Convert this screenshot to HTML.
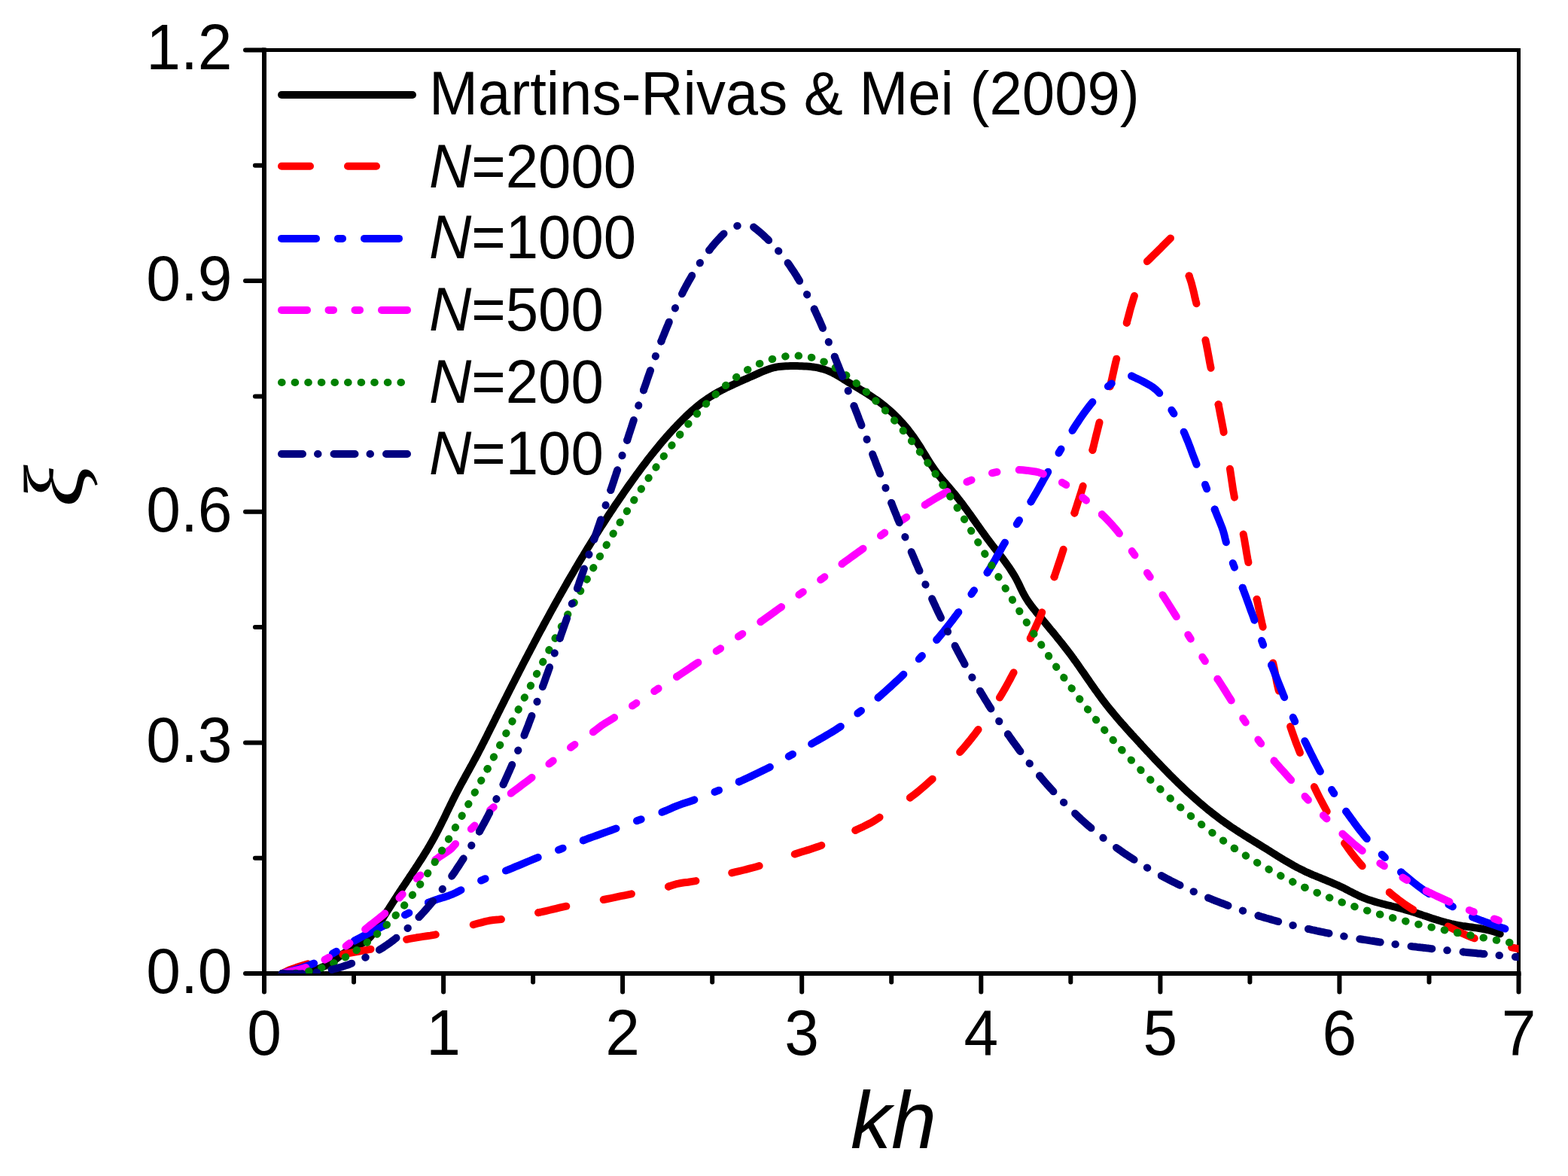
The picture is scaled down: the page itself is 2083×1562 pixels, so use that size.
<!DOCTYPE html>
<html><head><meta charset="utf-8"><title>xi vs kh</title><style>html,body{margin:0;padding:0;background:#fff;}svg{display:block;}</style></head><body>
<svg width="2083" height="1562" viewBox="0 0 2083 1562">
<rect width="2083" height="1562" fill="#fff"/>
<defs><clipPath id="pc"><rect x="351.0" y="66.5" width="1666.5" height="1226.5"/></clipPath></defs>
<g stroke="#000" fill="none" stroke-linecap="square">
<line x1="351.0" y1="66.5" x2="2017.5" y2="66.5" stroke-width="5"/>
<line x1="2017.5" y1="66.5" x2="2017.5" y2="1293.0" stroke-width="5"/>
<line x1="351.0" y1="1293.0" x2="2017.5" y2="1293.0" stroke-width="6"/>
<line x1="351.0" y1="66.5" x2="351.0" y2="1293.0" stroke-width="6"/>
</g>
<g stroke="#000" stroke-width="6" stroke-linecap="round"><line x1="351.0" y1="1293.0" x2="351.0" y2="1317.6"/><line x1="589.1" y1="1293.0" x2="589.1" y2="1317.6"/><line x1="827.1" y1="1293.0" x2="827.1" y2="1317.6"/><line x1="1065.2" y1="1293.0" x2="1065.2" y2="1317.6"/><line x1="1303.3" y1="1293.0" x2="1303.3" y2="1317.6"/><line x1="1541.4" y1="1293.0" x2="1541.4" y2="1317.6"/><line x1="1779.4" y1="1293.0" x2="1779.4" y2="1317.6"/><line x1="2017.5" y1="1293.0" x2="2017.5" y2="1317.6"/><line x1="470.0" y1="1293.0" x2="470.0" y2="1304.5"/><line x1="708.1" y1="1293.0" x2="708.1" y2="1304.5"/><line x1="946.2" y1="1293.0" x2="946.2" y2="1304.5"/><line x1="1184.2" y1="1293.0" x2="1184.2" y2="1304.5"/><line x1="1422.3" y1="1293.0" x2="1422.3" y2="1304.5"/><line x1="1660.4" y1="1293.0" x2="1660.4" y2="1304.5"/><line x1="1898.5" y1="1293.0" x2="1898.5" y2="1304.5"/><line x1="326.0" y1="1293.0" x2="351.0" y2="1293.0"/><line x1="326.0" y1="986.4" x2="351.0" y2="986.4"/><line x1="326.0" y1="679.8" x2="351.0" y2="679.8"/><line x1="326.0" y1="373.1" x2="351.0" y2="373.1"/><line x1="326.0" y1="66.5" x2="351.0" y2="66.5"/><line x1="338.9" y1="1139.7" x2="351.0" y2="1139.7"/><line x1="338.9" y1="833.1" x2="351.0" y2="833.1"/><line x1="338.9" y1="526.4" x2="351.0" y2="526.4"/><line x1="338.9" y1="219.8" x2="351.0" y2="219.8"/></g>
<g font-family='"Liberation Sans", Arial, sans-serif' font-size="86" fill="#000"><text transform="translate(351.0,1401) scale(0.955,1)" text-anchor="middle">0</text><text transform="translate(589.1,1401) scale(0.955,1)" text-anchor="middle">1</text><text transform="translate(827.1,1401) scale(0.955,1)" text-anchor="middle">2</text><text transform="translate(1065.2,1401) scale(0.955,1)" text-anchor="middle">3</text><text transform="translate(1303.3,1401) scale(0.955,1)" text-anchor="middle">4</text><text transform="translate(1541.4,1401) scale(0.955,1)" text-anchor="middle">5</text><text transform="translate(1779.4,1401) scale(0.955,1)" text-anchor="middle">6</text><text transform="translate(2017.5,1401) scale(0.955,1)" text-anchor="middle">7</text><text transform="translate(308.5,1318.7) scale(0.955,1)" text-anchor="end">0.0</text><text transform="translate(308.5,1012.1) scale(0.955,1)" text-anchor="end">0.3</text><text transform="translate(308.5,705.5) scale(0.955,1)" text-anchor="end">0.6</text><text transform="translate(308.5,398.8) scale(0.955,1)" text-anchor="end">0.9</text><text transform="translate(308.5,92.2) scale(0.955,1)" text-anchor="end">1.2</text></g>
<text x="1130" y="1525" font-family='"Liberation Sans", Arial, sans-serif' font-style="italic" font-size="108" fill="#000">kh</text>
<text transform="translate(110,645.5) rotate(-90) scale(1.17,1)" text-anchor="middle" font-family='"Liberation Serif", serif' font-style="italic" font-size="112" fill="#000">ξ</text>
<g clip-path="url(#pc)" fill="none" stroke-width="10" stroke-linecap="round" stroke-linejoin="round">
<path d="M374.8,1293.0 L377.8,1293.1 L380.8,1293.2 L383.8,1293.2 L386.8,1293.2 L389.8,1293.1 L392.8,1292.9 L395.9,1292.6 L398.9,1292.3 L401.9,1291.9 L404.9,1291.4 L407.9,1290.8 L410.8,1290.2 L413.8,1289.5 L416.7,1288.7 L419.6,1287.8 L422.4,1286.9 L425.2,1285.9 L428.0,1284.7 L430.7,1283.5 L433.3,1282.2 L436.0,1280.8 L438.5,1279.4 L441.0,1277.8 L443.4,1276.1 L445.8,1274.4 L448.1,1272.6 L450.4,1270.8 L452.8,1269.0 L455.1,1267.2 L457.6,1265.6 L460.0,1264.0 L462.6,1262.5 L465.2,1261.1 L467.8,1259.7 L470.5,1258.4 L473.2,1257.1 L475.9,1255.8 L478.5,1254.5 L481.1,1253.0 L483.6,1251.5 L486.0,1249.9 L488.3,1248.1 L490.4,1246.1 L492.4,1244.0 L494.2,1241.7 L496.0,1239.3 L497.7,1236.8 L499.3,1234.2 L501.0,1231.7 L502.6,1229.1 L504.2,1226.5 L505.8,1224.0 L507.4,1221.4 L509.0,1218.8 L510.6,1216.3 L512.2,1213.8 L513.8,1211.2 L515.4,1208.7 L517.1,1206.2 L518.7,1203.6 L520.3,1201.1 L521.9,1198.6 L523.5,1196.1 L525.2,1193.6 L526.8,1191.0 L528.4,1188.5 L530.1,1186.0 L531.7,1183.5 L533.4,1181.0 L535.0,1178.5 L536.7,1176.0 L538.4,1173.5 L540.0,1171.0 L541.7,1168.5 L543.4,1166.0 L545.0,1163.5 L546.7,1161.0 L548.4,1158.5 L550.0,1156.0 L551.7,1153.5 L553.3,1151.0 L555.0,1148.5 L556.6,1145.9 L558.2,1143.4 L559.9,1140.9 L561.5,1138.3 L563.1,1135.8 L564.6,1133.2 L566.2,1130.7 L567.8,1128.1 L569.3,1125.5 L570.8,1122.9 L572.3,1120.3 L573.8,1117.7 L575.3,1115.1 L576.8,1112.5 L578.2,1109.8 L579.6,1107.2 L581.0,1104.5 L582.4,1101.9 L583.7,1099.2 L585.1,1096.5 L586.4,1093.8 L587.7,1091.1 L589.1,1088.5 L590.4,1085.8 L591.7,1083.1 L593.0,1080.4 L594.3,1077.7 L595.6,1075.0 L596.9,1072.3 L598.2,1069.6 L599.6,1066.9 L600.9,1064.2 L602.2,1061.5 L603.6,1058.8 L604.9,1056.1 L606.3,1053.5 L607.7,1050.8 L609.1,1048.1 L610.5,1045.5 L611.9,1042.8 L613.3,1040.2 L614.8,1037.6 L616.2,1034.9 L617.7,1032.3 L619.1,1029.6 L620.6,1027.0 L622.0,1024.4 L623.5,1021.8 L624.9,1019.1 L626.4,1016.5 L627.8,1013.9 L629.2,1011.2 L630.7,1008.6 L632.1,1005.9 L633.5,1003.3 L634.9,1000.6 L636.3,998.0 L637.7,995.3 L639.1,992.6 L640.4,990.0 L641.8,987.3 L643.2,984.6 L644.5,981.9 L645.9,979.3 L647.2,976.6 L648.5,973.9 L649.9,971.2 L651.2,968.5 L652.6,965.8 L653.9,963.2 L655.2,960.5 L656.6,957.8 L657.9,955.1 L659.2,952.4 L660.6,949.7 L661.9,947.0 L663.3,944.3 L664.6,941.6 L665.9,939.0 L667.3,936.3 L668.6,933.6 L670.0,930.9 L671.3,928.2 L672.7,925.5 L674.0,922.8 L675.4,920.2 L676.7,917.5 L678.1,914.8 L679.5,912.1 L680.8,909.4 L682.2,906.7 L683.6,904.1 L684.9,901.4 L686.3,898.7 L687.7,896.0 L689.0,893.3 L690.4,890.7 L691.8,888.0 L693.2,885.3 L694.5,882.6 L695.9,880.0 L697.3,877.3 L698.7,874.6 L700.1,872.0 L701.5,869.3 L702.9,866.6 L704.3,864.0 L705.7,861.3 L707.1,858.6 L708.5,856.0 L709.9,853.3 L711.3,850.7 L712.7,848.0 L714.1,845.3 L715.5,842.7 L716.9,840.0 L718.3,837.4 L719.8,834.7 L721.2,832.1 L722.6,829.4 L724.0,826.8 L725.5,824.1 L726.9,821.5 L728.4,818.9 L729.8,816.2 L731.2,813.6 L732.7,810.9 L734.2,808.3 L735.6,805.7 L737.1,803.0 L738.5,800.4 L740.0,797.8 L741.5,795.2 L742.9,792.5 L744.4,789.9 L745.9,787.3 L747.4,784.7 L748.9,782.1 L750.3,779.5 L751.8,776.9 L753.3,774.2 L754.8,771.6 L756.3,769.0 L757.8,766.4 L759.4,763.8 L760.9,761.2 L762.4,758.7 L763.9,756.1 L765.4,753.5 L767.0,750.9 L768.5,748.3 L770.0,745.7 L771.6,743.1 L773.1,740.6 L774.7,738.0 L776.2,735.4 L777.8,732.9 L779.3,730.3 L780.9,727.7 L782.5,725.2 L784.1,722.6 L785.6,720.1 L787.2,717.5 L788.8,715.0 L790.4,712.4 L792.0,709.9 L793.6,707.3 L795.2,704.8 L796.8,702.3 L798.4,699.7 L800.1,697.2 L801.7,694.7 L803.3,692.2 L804.9,689.7 L806.6,687.2 L808.2,684.6 L809.9,682.1 L811.5,679.6 L813.2,677.1 L814.9,674.6 L816.5,672.1 L818.2,669.7 L819.9,667.2 L821.6,664.7 L823.3,662.2 L825.0,659.7 L826.7,657.3 L828.4,654.8 L830.1,652.3 L831.8,649.9 L833.5,647.4 L835.2,645.0 L837.0,642.5 L838.7,640.1 L840.5,637.6 L842.2,635.2 L844.0,632.8 L845.7,630.3 L847.5,627.9 L849.3,625.5 L851.1,623.1 L852.8,620.7 L854.6,618.3 L856.5,615.9 L858.3,613.5 L860.1,611.1 L861.9,608.7 L863.8,606.4 L865.6,604.0 L867.5,601.7 L869.4,599.3 L871.3,597.0 L873.2,594.7 L875.1,592.3 L877.0,590.0 L878.9,587.7 L880.9,585.4 L882.9,583.2 L884.8,580.9 L886.8,578.6 L888.8,576.4 L890.8,574.1 L892.9,571.9 L894.9,569.7 L897.0,567.5 L899.0,565.3 L901.1,563.1 L903.2,560.9 L905.4,558.8 L907.5,556.6 L909.7,554.5 L911.8,552.4 L914.0,550.3 L916.3,548.3 L918.5,546.3 L920.8,544.3 L923.1,542.3 L925.4,540.3 L927.7,538.4 L930.1,536.6 L932.4,534.8 L934.8,533.0 L937.3,531.2 L939.7,529.5 L942.2,527.9 L944.8,526.3 L947.3,524.7 L949.9,523.2 L952.5,521.7 L955.1,520.2 L957.7,518.8 L960.4,517.4 L963.1,516.1 L965.7,514.7 L968.4,513.4 L971.2,512.1 L973.9,510.9 L976.6,509.6 L979.4,508.4 L982.1,507.1 L984.9,505.9 L987.7,504.7 L990.4,503.5 L993.2,502.3 L995.9,501.0 L998.7,499.8 L1001.5,498.6 L1004.2,497.4 L1007.0,496.1 L1009.7,494.9 L1012.5,493.7 L1015.2,492.6 L1018.0,491.5 L1020.8,490.5 L1023.6,489.5 L1026.4,488.7 L1029.3,488.0 L1032.2,487.4 L1035.1,487.0 L1038.0,486.7 L1041.0,486.4 L1044.0,486.3 L1046.9,486.2 L1050.0,486.1 L1053.0,486.1 L1056.0,486.1 L1059.1,486.1 L1062.1,486.2 L1065.2,486.2 L1068.2,486.4 L1071.2,486.6 L1074.3,486.8 L1077.3,487.1 L1080.3,487.5 L1083.3,487.9 L1086.2,488.4 L1089.1,489.1 L1092.0,489.8 L1094.9,490.6 L1097.7,491.6 L1100.4,492.6 L1103.2,493.8 L1105.8,495.1 L1108.5,496.5 L1111.1,498.0 L1113.7,499.5 L1116.3,501.0 L1118.9,502.6 L1121.4,504.2 L1124.0,505.8 L1126.6,507.4 L1129.2,509.0 L1131.8,510.5 L1134.4,512.1 L1137.0,513.7 L1139.5,515.2 L1142.1,516.8 L1144.7,518.4 L1147.3,519.9 L1149.8,521.5 L1152.4,523.1 L1154.9,524.8 L1157.4,526.4 L1159.9,528.1 L1162.4,529.8 L1164.9,531.5 L1167.3,533.2 L1169.7,535.0 L1172.1,536.9 L1174.4,538.7 L1176.7,540.6 L1179.0,542.5 L1181.3,544.5 L1183.5,546.5 L1185.8,548.5 L1187.9,550.6 L1190.1,552.7 L1192.2,554.8 L1194.3,557.0 L1196.3,559.2 L1198.4,561.4 L1200.4,563.6 L1202.3,565.9 L1204.3,568.2 L1206.2,570.5 L1208.0,572.9 L1209.8,575.3 L1211.6,577.7 L1213.4,580.1 L1215.1,582.6 L1216.8,585.1 L1218.5,587.6 L1220.1,590.1 L1221.8,592.6 L1223.4,595.2 L1224.9,597.7 L1226.5,600.3 L1228.1,602.9 L1229.7,605.4 L1231.2,608.0 L1232.8,610.6 L1234.4,613.1 L1236.0,615.6 L1237.7,618.2 L1239.3,620.6 L1241.0,623.1 L1242.7,625.6 L1244.5,628.0 L1246.3,630.4 L1248.2,632.7 L1250.0,635.0 L1252.0,637.3 L1253.9,639.6 L1255.9,641.9 L1257.8,644.1 L1259.8,646.4 L1261.8,648.6 L1263.7,650.9 L1265.6,653.2 L1267.6,655.5 L1269.5,657.8 L1271.3,660.1 L1273.2,662.5 L1275.0,664.8 L1276.8,667.2 L1278.7,669.6 L1280.4,672.0 L1282.2,674.4 L1284.0,676.8 L1285.8,679.3 L1287.5,681.7 L1289.3,684.1 L1291.0,686.6 L1292.7,689.0 L1294.5,691.5 L1296.2,693.9 L1297.9,696.4 L1299.7,698.8 L1301.4,701.3 L1303.2,703.7 L1304.9,706.2 L1306.7,708.6 L1308.4,711.1 L1310.2,713.5 L1312.0,715.9 L1313.8,718.3 L1315.6,720.7 L1317.4,723.1 L1319.3,725.5 L1321.1,727.9 L1323.0,730.2 L1324.8,732.6 L1326.7,735.0 L1328.5,737.3 L1330.4,739.7 L1332.2,742.1 L1334.0,744.5 L1335.8,746.9 L1337.5,749.3 L1339.2,751.8 L1340.9,754.2 L1342.6,756.7 L1344.2,759.2 L1345.8,761.7 L1347.4,764.3 L1348.9,766.9 L1350.3,769.5 L1351.7,772.2 L1353.0,774.8 L1354.3,777.5 L1355.6,780.3 L1356.9,783.0 L1358.2,785.7 L1359.6,788.4 L1361.0,791.0 L1362.5,793.6 L1364.1,796.1 L1365.7,798.6 L1367.4,801.1 L1369.2,803.5 L1371.0,805.9 L1372.9,808.3 L1374.8,810.6 L1376.6,813.0 L1378.5,815.3 L1380.4,817.6 L1382.4,819.9 L1384.3,822.3 L1386.2,824.6 L1388.1,826.9 L1390.0,829.2 L1391.9,831.5 L1393.8,833.9 L1395.7,836.2 L1397.7,838.5 L1399.6,840.8 L1401.5,843.1 L1403.4,845.5 L1405.2,847.8 L1407.1,850.1 L1409.0,852.5 L1410.9,854.8 L1412.7,857.2 L1414.6,859.6 L1416.4,861.9 L1418.3,864.3 L1420.1,866.7 L1421.9,869.1 L1423.7,871.5 L1425.5,873.9 L1427.2,876.4 L1429.0,878.8 L1430.7,881.3 L1432.5,883.7 L1434.2,886.2 L1435.9,888.7 L1437.6,891.2 L1439.4,893.6 L1441.1,896.1 L1442.8,898.6 L1444.5,901.1 L1446.2,903.5 L1447.9,906.0 L1449.6,908.5 L1451.4,911.0 L1453.1,913.4 L1454.8,915.9 L1456.6,918.3 L1458.3,920.8 L1460.1,923.2 L1461.9,925.6 L1463.6,928.0 L1465.4,930.4 L1467.3,932.8 L1469.1,935.2 L1470.9,937.5 L1472.8,939.9 L1474.7,942.2 L1476.6,944.5 L1478.5,946.8 L1480.4,949.1 L1482.3,951.4 L1484.3,953.7 L1486.2,955.9 L1488.2,958.2 L1490.1,960.5 L1492.1,962.7 L1494.1,964.9 L1496.1,967.2 L1498.1,969.4 L1500.1,971.6 L1502.1,973.9 L1504.1,976.1 L1506.2,978.3 L1508.2,980.5 L1510.2,982.7 L1512.2,984.9 L1514.3,987.1 L1516.3,989.4 L1518.4,991.6 L1520.4,993.8 L1522.4,996.0 L1524.5,998.2 L1526.6,1000.4 L1528.6,1002.6 L1530.7,1004.8 L1532.7,1007.0 L1534.8,1009.2 L1536.9,1011.4 L1539.0,1013.5 L1541.1,1015.7 L1543.2,1017.9 L1545.3,1020.1 L1547.4,1022.2 L1549.5,1024.4 L1551.6,1026.5 L1553.7,1028.7 L1555.8,1030.8 L1558.0,1032.9 L1560.1,1035.1 L1562.3,1037.2 L1564.4,1039.3 L1566.6,1041.4 L1568.8,1043.5 L1571.0,1045.5 L1573.1,1047.6 L1575.3,1049.7 L1577.5,1051.7 L1579.8,1053.7 L1582.0,1055.8 L1584.2,1057.8 L1586.5,1059.8 L1588.7,1061.8 L1591.0,1063.8 L1593.2,1065.7 L1595.5,1067.7 L1597.8,1069.6 L1600.1,1071.5 L1602.4,1073.5 L1604.7,1075.4 L1607.1,1077.2 L1609.4,1079.1 L1611.8,1081.0 L1614.1,1082.8 L1616.5,1084.6 L1618.9,1086.4 L1621.3,1088.2 L1623.7,1090.0 L1626.2,1091.7 L1628.6,1093.5 L1631.1,1095.2 L1633.5,1096.9 L1636.0,1098.6 L1638.5,1100.2 L1641.0,1101.9 L1643.5,1103.5 L1646.0,1105.2 L1648.6,1106.8 L1651.1,1108.4 L1653.6,1110.0 L1656.2,1111.6 L1658.7,1113.1 L1661.3,1114.7 L1663.9,1116.3 L1666.4,1117.9 L1669.0,1119.4 L1671.5,1121.0 L1674.1,1122.6 L1676.7,1124.2 L1679.2,1125.7 L1681.8,1127.3 L1684.3,1128.9 L1686.9,1130.5 L1689.4,1132.1 L1692.0,1133.7 L1694.5,1135.3 L1697.1,1136.9 L1699.6,1138.5 L1702.2,1140.1 L1704.8,1141.6 L1707.3,1143.2 L1709.9,1144.7 L1712.5,1146.2 L1715.1,1147.7 L1717.7,1149.2 L1720.4,1150.6 L1723.0,1152.1 L1725.6,1153.4 L1728.3,1154.8 L1731.0,1156.1 L1733.7,1157.4 L1736.4,1158.7 L1739.2,1159.9 L1741.9,1161.1 L1744.7,1162.3 L1747.5,1163.4 L1750.2,1164.6 L1753.0,1165.7 L1755.8,1166.9 L1758.6,1168.0 L1761.4,1169.1 L1764.2,1170.3 L1766.9,1171.4 L1769.7,1172.6 L1772.5,1173.8 L1775.2,1175.0 L1778.0,1176.2 L1780.7,1177.5 L1783.4,1178.8 L1786.1,1180.1 L1788.7,1181.5 L1791.4,1182.9 L1794.0,1184.3 L1796.7,1185.6 L1799.4,1187.0 L1802.1,1188.3 L1804.7,1189.6 L1807.5,1190.8 L1810.2,1192.0 L1813.0,1193.1 L1815.7,1194.2 L1818.6,1195.2 L1821.4,1196.1 L1824.2,1197.0 L1827.1,1197.9 L1830.0,1198.7 L1832.9,1199.5 L1835.8,1200.3 L1838.7,1201.0 L1841.6,1201.8 L1844.6,1202.5 L1847.5,1203.2 L1850.4,1204.0 L1853.4,1204.7 L1856.3,1205.4 L1859.2,1206.2 L1862.1,1206.9 L1865.0,1207.7 L1867.9,1208.6 L1870.8,1209.4 L1873.7,1210.3 L1876.6,1211.2 L1879.4,1212.1 L1882.3,1213.0 L1885.1,1214.0 L1888.0,1214.9 L1890.8,1215.9 L1893.6,1216.8 L1896.5,1217.8 L1899.3,1218.7 L1902.1,1219.7 L1905.0,1220.6 L1907.8,1221.5 L1910.7,1222.4 L1913.5,1223.2 L1916.4,1224.1 L1919.3,1224.9 L1922.2,1225.7 L1925.0,1226.4 L1927.9,1227.1 L1930.9,1227.7 L1933.8,1228.3 L1936.7,1228.9 L1939.7,1229.4 L1942.7,1229.9 L1945.7,1230.3 L1948.7,1230.7 L1951.6,1231.1 L1954.6,1231.5 L1957.6,1232.0 L1960.6,1232.4 L1963.6,1232.8 L1966.6,1233.3 L1969.6,1233.8 L1972.5,1234.4 L1975.5,1235.0 L1978.4,1235.7 L1981.3,1236.4 L1984.2,1237.3 L1987.1,1238.2 L1989.9,1239.3 L1992.7,1240.4" stroke="#000000"/>
<path d="M374.8,1293.0 L384.0,1288.5 L388.4,1286.9 L393.5,1285.1 L399.1,1283.3 L404.7,1281.6 L410.0,1280.0 L415.6,1278.4 L421.1,1276.9 L426.5,1275.5 L432.0,1274.0 L436.5,1272.8 L440.9,1271.5 L445.3,1270.3 L450.1,1269.0 L455.2,1267.8 L455.6,1267.7" stroke="#ff0000" stroke-dasharray="36.62 48.18"/>
<path d="M455.6,1267.7 L459.0,1266.9 L463.1,1266.1 L467.4,1265.3 L471.8,1264.5 L476.4,1263.7 L481.0,1262.9 L485.6,1262.1 L490.2,1261.2 L494.7,1260.3 L499.1,1259.3 L503.7,1258.1 L508.3,1256.9 L512.8,1255.6 L517.3,1254.2 L521.8,1252.8 L526.3,1251.5 L530.9,1250.1 L535.4,1248.9 L540.1,1247.8 L540.1,1247.8" stroke="#ff0000" stroke-dasharray="37.54 49.40"/>
<path d="M540.1,1247.8 L540.1,1247.8 L544.5,1246.9 L549.0,1246.1 L553.5,1245.3 L558.1,1244.6 L562.7,1243.9 L567.2,1243.3 L571.8,1242.6 L576.3,1241.8 L580.8,1241.0 L585.3,1240.1 L590.2,1239.0 L595.1,1237.7 L600.1,1236.4 L605.0,1235.0 L609.9,1233.6 L614.6,1232.2 L619.2,1230.9 L623.6,1229.6 L627.7,1228.5 L628.7,1228.2" stroke="#ff0000" stroke-dasharray="39.25 51.64"/>
<path d="M628.7,1228.2 L633.8,1226.8 L639.5,1225.3 L644.8,1223.9 L650.0,1222.8 L655.6,1222.0 L660.9,1221.6 L667.2,1220.9 L670.7,1220.4 L674.6,1219.8 L678.7,1219.1 L683.1,1218.3 L687.7,1217.5 L692.4,1216.6 L697.2,1215.7 L701.9,1214.8 L706.5,1213.9 L711.0,1213.1 L715.2,1212.2 L715.2,1212.2" stroke="#ff0000" stroke-dasharray="38.02 50.03"/>
<path d="M715.2,1212.2 L715.2,1212.2 L720.1,1211.2 L724.8,1210.1 L729.4,1209.0 L733.9,1207.9 L738.5,1206.8 L743.1,1205.7 L747.8,1204.6 L752.7,1203.6 L756.9,1202.8 L761.3,1202.0 L765.8,1201.2 L770.3,1200.4 L774.9,1199.6 L779.5,1198.9 L784.1,1198.1 L788.6,1197.3 L793.1,1196.6 L797.5,1195.8 L801.7,1195.0 L801.7,1195.0" stroke="#ff0000" stroke-dasharray="38.10 50.13"/>
<path d="M801.7,1195.0 L801.7,1195.0 L806.6,1194.0 L811.3,1193.1 L815.9,1192.2 L820.4,1191.2 L824.9,1190.2 L829.5,1189.3 L834.2,1188.3 L839.1,1187.3 L843.4,1186.5 L848.0,1185.6 L852.8,1184.7 L857.8,1183.8 L862.7,1182.9 L867.6,1181.9 L872.3,1181.0 L876.8,1180.2 L880.9,1179.3 L884.7,1178.5 L887.9,1177.7 L888.1,1177.6" stroke="#ff0000" stroke-dasharray="38.05 50.07"/>
<path d="M888.1,1177.6 L894.2,1175.6 L900.0,1173.8 L904.3,1173.0 L909.0,1172.3 L914.1,1171.7 L919.4,1170.9 L925.1,1170.0 L928.9,1169.3 L932.9,1168.5 L937.1,1167.6 L941.4,1166.6 L945.8,1165.6 L950.4,1164.6 L954.9,1163.5 L959.4,1162.5 L963.8,1161.4 L968.1,1160.4 L972.2,1159.4 L972.2,1159.4" stroke="#ff0000" stroke-dasharray="37.22 48.98"/>
<path d="M972.2,1159.4 L972.2,1159.4 L977.1,1158.2 L981.8,1157.1 L986.4,1156.0 L991.0,1154.9 L995.5,1153.7 L1000.1,1152.5 L1004.8,1151.2 L1009.6,1149.8 L1013.6,1148.6 L1017.8,1147.3 L1022.0,1145.9 L1026.3,1144.5 L1030.6,1143.0 L1034.9,1141.5 L1039.2,1140.0 L1043.4,1138.6 L1047.6,1137.1 L1051.7,1135.7 L1055.7,1134.4 L1055.7,1134.4" stroke="#ff0000" stroke-dasharray="37.67 49.56"/>
<path d="M1055.7,1134.4 L1055.7,1134.4 L1060.3,1132.9 L1064.8,1131.5 L1069.2,1130.2 L1073.6,1128.9 L1077.9,1127.5 L1082.3,1126.1 L1086.7,1124.6 L1091.3,1122.9 L1095.3,1121.3 L1099.4,1119.6 L1103.7,1117.8 L1108.0,1115.9 L1112.3,1114.0 L1116.6,1112.0 L1120.9,1110.1 L1125.0,1108.1 L1129.0,1106.3 L1132.8,1104.5 L1136.4,1102.8 L1136.4,1102.8" stroke="#ff0000" stroke-dasharray="37.48 49.32"/>
<path d="M1136.4,1102.8 L1136.4,1102.8 L1141.8,1100.3 L1146.9,1097.9 L1151.7,1095.5 L1156.1,1093.3 L1160.0,1091.2 L1169.4,1085.0 L1172.2,1083.2 L1175.6,1081.0 L1179.5,1078.7 L1183.6,1076.1 L1187.9,1073.4 L1192.4,1070.6 L1196.8,1067.8 L1201.1,1065.0 L1205.2,1062.2 L1209.0,1059.5 L1209.0,1059.5" stroke="#ff0000" stroke-dasharray="36.56 48.11"/>
<path d="M1209.0,1059.5 L1209.0,1059.5 L1212.9,1056.6 L1216.6,1053.7 L1220.2,1050.8 L1223.7,1047.9 L1227.1,1045.0 L1230.6,1041.9 L1234.1,1038.8 L1237.8,1035.5 L1241.0,1032.6 L1244.3,1029.6 L1247.6,1026.5 L1251.0,1023.3 L1254.4,1020.1 L1257.8,1016.8 L1261.2,1013.5 L1264.5,1010.2 L1267.7,1006.9 L1270.8,1003.7 L1273.8,1000.5 L1277.1,996.8 L1280.3,993.2 L1283.4,989.6 L1286.3,986.0 L1289.3,982.4 L1292.2,978.7 L1295.2,974.9 L1298.2,970.8 L1300.7,967.4 L1303.2,963.9 L1305.8,960.3 L1308.3,956.6 L1310.9,952.8 L1313.5,949.0 L1316.1,945.1 L1318.6,941.3 L1321.1,937.5 L1323.4,933.7 L1325.7,930.1 L1327.9,926.6 L1327.9,926.6" stroke="#ff0000" stroke-dasharray="38.75 50.98"/>
<path d="M1327.9,926.6 L1327.9,926.6 L1330.5,922.4 L1332.9,918.3 L1335.2,914.4 L1337.4,910.4 L1339.5,906.5 L1341.7,902.5 L1343.9,898.3 L1346.2,894.0 L1348.2,890.1 L1350.3,886.1 L1352.4,881.9 L1354.5,877.6 L1356.7,873.3 L1358.8,868.9 L1360.9,864.6 L1363.0,860.3 L1365.0,856.0 L1366.9,851.9 L1368.8,847.9 L1368.8,847.9" stroke="#ff0000" stroke-dasharray="38.32 50.42"/>
<path d="M1368.8,847.9 L1368.8,847.9 L1370.9,843.4 L1372.9,839.1 L1374.9,834.8 L1376.8,830.7 L1378.7,826.5 L1380.5,822.3 L1382.4,817.9 L1384.2,813.3 L1385.7,809.3 L1387.3,805.2 L1388.8,800.9 L1390.3,796.6 L1391.8,792.2 L1393.3,787.8 L1394.8,783.3 L1396.3,779.0 L1397.7,774.6 L1399.1,770.4 L1400.5,766.3 L1400.5,766.3" stroke="#ff0000" stroke-dasharray="37.84 49.79"/>
<path d="M1400.5,766.3 L1400.5,766.3 L1402.2,761.4 L1403.8,756.7 L1405.3,752.1 L1406.8,747.6 L1408.4,743.0 L1409.9,738.4 L1411.4,733.7 L1413.0,728.8 L1414.3,724.7 L1415.6,720.4 L1416.9,716.1 L1418.3,711.7 L1419.6,707.3 L1420.9,702.8 L1422.2,698.4 L1423.6,694.0 L1424.9,689.7 L1426.1,685.5 L1427.4,681.4 L1427.4,681.4" stroke="#ff0000" stroke-dasharray="38.46 50.61"/>
<path d="M1427.4,681.4 L1427.4,681.4 L1428.9,676.6 L1430.4,672.1 L1431.8,667.6 L1433.2,663.2 L1434.7,658.7 L1436.1,654.3 L1437.5,649.7 L1438.9,644.9 L1440.1,640.8 L1441.2,636.7 L1442.4,632.4 L1443.6,628.0 L1444.7,623.6 L1445.9,619.2 L1447.0,614.8 L1448.1,610.5 L1449.3,606.2 L1450.3,601.9 L1451.4,597.8 L1451.4,597.8" stroke="#ff0000" stroke-dasharray="37.57 49.43"/>
<path d="M1451.4,597.8 L1451.4,597.8 L1452.7,592.8 L1453.8,588.0 L1455.0,583.3 L1456.1,578.6 L1457.3,573.9 L1458.5,569.1 L1459.7,564.3 L1461.0,559.4 L1462.1,555.3 L1463.3,551.2 L1464.6,547.0 L1465.9,542.7 L1467.2,538.5 L1468.5,534.2 L1469.9,529.9 L1471.1,525.7 L1472.4,521.5 L1473.6,517.4 L1474.6,513.4" stroke="#ff0000" stroke-dasharray="37.83 49.77"/>
<path d="M1474.6,513.4 L1474.7,513.3 L1475.9,508.6 L1477.0,504.0 L1478.0,499.4 L1479.0,494.9 L1480.0,490.4 L1481.0,485.9 L1482.1,481.2 L1483.3,476.4 L1484.4,472.3 L1485.5,468.0 L1486.8,463.6 L1488.0,459.1 L1489.3,454.6 L1490.6,450.2 L1491.9,445.7 L1493.2,441.3 L1494.4,437.0 L1495.6,432.8 L1496.8,428.8 L1496.8,428.7" stroke="#ff0000" stroke-dasharray="37.78 49.72"/>
<path d="M1496.8,428.7 L1498.1,423.9 L1499.4,419.2 L1500.5,414.7 L1501.7,410.3 L1503.0,405.8 L1504.4,401.1 L1505.9,396.2 L1507.2,392.3 L1508.7,388.0 L1510.3,383.5 L1512.0,378.8 L1513.8,374.0 L1515.6,369.2 L1517.3,364.6 L1519.0,360.3 L1520.5,356.2 L1521.9,352.6 L1523.0,349.6 L1523.9,347.2 L1523.9,347.2" stroke="#ff0000" stroke-dasharray="37.14 48.87"/>
<path d="M1523.9,347.2 L1523.9,347.2 L1526.0,345.2 L1528.8,342.4 L1532.2,339.0 L1536.0,335.3 L1540.0,331.4 L1543.9,327.4 L1547.7,323.7 L1551.1,320.3 L1553.9,317.5 L1556.0,315.5 L1557.1,317.8 L1558.5,320.6 L1560.1,323.9 L1561.9,327.6 L1563.9,331.7 L1566.0,336.0 L1568.2,340.4 L1570.4,345.0 L1572.5,349.6 L1574.5,354.1 L1576.4,358.4 L1578.1,362.6 L1579.6,366.4 L1579.6,366.4" stroke="#ff0000" stroke-dasharray="43.72 57.52"/>
<path d="M1579.6,366.4 L1579.6,366.4 L1581.2,371.2 L1582.7,375.8 L1583.9,380.4 L1585.0,384.8 L1586.1,389.3 L1587.1,393.9 L1588.2,398.5 L1589.5,403.4 L1590.5,407.5 L1591.6,411.9 L1592.8,416.3 L1593.9,420.8 L1595.1,425.3 L1596.2,429.9 L1597.3,434.4 L1598.4,438.9 L1599.5,443.3 L1600.5,447.7 L1601.4,451.8" stroke="#ff0000" stroke-dasharray="38.10 50.13"/>
<path d="M1601.4,451.8 L1601.4,451.9 L1602.5,456.8 L1603.4,461.5 L1604.3,466.1 L1605.1,470.6 L1606.0,475.2 L1606.8,479.8 L1607.7,484.5 L1608.7,489.4 L1609.5,493.5 L1610.4,497.9 L1611.3,502.3 L1612.2,506.8 L1613.2,511.3 L1614.2,515.8 L1615.1,520.4 L1616.0,524.8 L1617.0,529.3 L1617.9,533.6 L1618.6,537.3" stroke="#ff0000" stroke-dasharray="37.63 49.51"/>
<path d="M1618.6,537.3 L1618.7,537.8 L1619.7,542.7 L1620.6,547.5 L1621.5,552.2 L1622.4,556.8 L1623.3,561.4 L1624.2,566.1 L1625.1,570.8 L1625.9,575.8 L1626.8,580.3 L1627.6,584.9 L1628.4,589.6 L1629.2,594.4 L1630.0,599.3 L1630.8,604.1 L1631.6,608.9 L1632.4,613.6 L1633.2,618.3 L1633.9,622.8 L1633.9,622.8" stroke="#ff0000" stroke-dasharray="37.52 49.37"/>
<path d="M1633.9,622.8 L1633.9,622.8 L1634.7,627.8 L1635.4,632.6 L1636.1,637.3 L1636.8,642.0 L1637.5,646.7 L1638.2,651.4 L1639.1,656.2 L1640.0,661.2 L1640.9,665.4 L1641.9,669.8 L1642.9,674.2 L1644.1,678.7 L1645.2,683.2 L1646.4,687.7 L1647.5,692.2 L1648.7,696.7 L1649.8,701.1 L1650.8,705.4 L1651.7,709.6 L1651.7,709.6" stroke="#ff0000" stroke-dasharray="38.30 50.39"/>
<path d="M1651.7,709.6 L1651.7,709.6 L1652.7,714.5 L1653.5,719.2 L1654.3,723.8 L1655.1,728.3 L1655.8,732.9 L1656.6,737.5 L1657.4,742.2 L1658.4,747.1 L1659.3,751.3 L1660.2,755.7 L1661.2,760.2 L1662.3,764.7 L1663.4,769.3 L1664.4,773.9 L1665.5,778.5 L1666.6,783.0 L1667.6,787.5 L1668.6,791.8 L1669.6,796.0 L1669.6,796.0" stroke="#ff0000" stroke-dasharray="38.11 50.15"/>
<path d="M1669.6,796.0 L1669.6,796.0 L1670.7,800.8 L1671.6,805.4 L1672.6,809.9 L1673.5,814.3 L1674.4,818.7 L1675.4,823.2 L1676.4,827.7 L1677.6,832.5 L1678.7,836.7 L1679.8,840.9 L1681.1,845.3 L1682.4,849.8 L1683.7,854.2 L1685.0,858.7 L1686.4,863.2 L1687.7,867.7 L1688.9,872.1 L1690.0,876.3 L1691.1,880.5 L1691.1,880.5" stroke="#ff0000" stroke-dasharray="37.67 49.57"/>
<path d="M1691.1,880.5 L1691.1,880.5 L1692.2,885.3 L1693.1,889.8 L1694.0,894.3 L1694.8,898.8 L1695.6,903.2 L1696.5,907.7 L1697.5,912.3 L1698.7,917.0 L1699.8,921.2 L1701.1,925.5 L1702.4,929.9 L1703.8,934.3 L1705.2,938.8 L1706.7,943.4 L1708.2,947.8 L1709.7,952.3 L1711.2,956.6 L1712.7,960.9 L1714.1,965.0 L1714.1,965.0" stroke="#ff0000" stroke-dasharray="37.88 49.84"/>
<path d="M1714.1,965.0 L1714.1,965.0 L1715.7,969.7 L1717.3,974.2 L1718.9,978.6 L1720.4,982.9 L1722.0,987.2 L1723.7,991.5 L1725.4,995.9 L1727.2,1000.5 L1728.7,1004.4 L1730.3,1008.4 L1731.9,1012.5 L1733.6,1016.7 L1735.3,1020.8 L1737.1,1025.0 L1738.8,1029.2 L1740.6,1033.3 L1742.4,1037.4 L1744.1,1041.3 L1745.9,1045.1 L1745.9,1045.1" stroke="#ff0000" stroke-dasharray="37.23 48.99"/>
<path d="M1745.9,1045.1 L1745.9,1045.1 L1748.0,1049.5 L1750.1,1053.8 L1752.2,1058.0 L1754.3,1062.0 L1756.5,1066.1 L1758.6,1070.2 L1760.9,1074.4 L1763.2,1078.7 L1765.3,1082.7 L1767.5,1086.8 L1769.8,1091.1 L1772.0,1095.3 L1774.3,1099.6 L1776.7,1103.9 L1779.0,1108.1 L1781.4,1112.2 L1783.9,1116.2 L1786.3,1120.0 L1786.3,1120.0" stroke="#ff0000" stroke-dasharray="36.76 48.37"/>
<path d="M1786.3,1120.0 L1786.3,1120.0 L1789.0,1124.0 L1791.7,1127.9 L1794.4,1131.6 L1797.2,1135.3 L1800.0,1138.9 L1803.0,1142.5 L1806.0,1146.1 L1809.3,1149.8 L1812.2,1153.0 L1815.3,1156.3 L1818.5,1159.7 L1821.8,1163.1 L1825.2,1166.4 L1828.6,1169.8 L1832.1,1173.1 L1835.6,1176.3 L1839.0,1179.4 L1842.5,1182.4 L1845.8,1185.3 L1845.8,1185.3" stroke="#ff0000" stroke-dasharray="38.27 50.36"/>
<path d="M1845.8,1185.3 L1845.8,1185.3 L1849.7,1188.6 L1853.6,1191.7 L1857.4,1194.7 L1861.2,1197.5 L1865.0,1200.3 L1869.0,1203.0 L1873.2,1205.7 L1877.5,1208.4 L1881.3,1210.6 L1885.3,1212.7 L1889.4,1214.9 L1893.7,1216.9 L1898.0,1219.0 L1902.4,1221.0 L1906.8,1222.9 L1911.1,1224.9 L1915.4,1226.8 L1919.6,1228.7 L1923.6,1230.5 L1923.6,1230.5" stroke="#ff0000" stroke-dasharray="39.05 51.38"/>
<path d="M1923.6,1230.5 L1923.6,1230.5 L1928.3,1232.7 L1932.9,1234.9 L1937.3,1237.1 L1941.7,1239.2 L1946.1,1241.2 L1950.6,1243.2 L1955.3,1245.1 L1960.1,1246.8 L1964.3,1248.1 L1968.9,1249.4 L1973.7,1250.7 L1978.6,1251.9 L1983.6,1253.1 L1988.5,1254.1 L1993.2,1255.1 L1997.6,1256.1 L2001.6,1256.9 L2005.2,1257.7 L2008.1,1258.3 L2008.1,1258.3" stroke="#ff0000" stroke-dasharray="38.60 50.79"/>
<path d="M2008.1,1258.3 L2008.1,1258.3 L2016.7,1260.2" stroke="#ff0000" stroke-dasharray="38.00 50.00"/>
<path d="M374.8,1293.0 L377.6,1292.2 L381.4,1291.1 L385.8,1289.8 L390.8,1288.4 L396.0,1286.8 L401.4,1285.2 L406.6,1283.4 L411.6,1281.7 L416.0,1280.0 L420.4,1278.1 L424.7,1276.0 L428.7,1273.9 L432.7,1271.8 L436.7,1269.6 L440.6,1267.4 L444.5,1265.2 L448.9,1262.6 L453.2,1260.1 L457.4,1257.5 L461.7,1254.9 L466.2,1252.2 L470.9,1249.5" stroke="#0000ff" stroke-dasharray="44.35 27.96 5.79 27.96"/>
<path d="M470.9,1249.5 L471.0,1249.5 L474.7,1247.5 L478.6,1245.4 L482.7,1243.2 L487.0,1241.1 L491.3,1238.9 L495.7,1236.7 L500.0,1234.5 L504.3,1232.4 L508.4,1230.3 L512.3,1228.3 L516.0,1226.4 L520.7,1224.0 L525.2,1221.8 L529.4,1219.6 L533.6,1217.5 L537.7,1215.4 L542.0,1213.2 L546.4,1210.8 L550.9,1208.3 L555.3,1205.8 L559.8,1203.3 L564.3,1201.0 L569.0,1198.8 L569.0,1198.8" stroke="#0000ff" stroke-dasharray="46.19 29.12 6.02 29.12"/>
<path d="M569.0,1198.8 L569.0,1198.8 L573.4,1197.1 L578.0,1195.5 L582.6,1193.9 L587.3,1192.5 L591.9,1191.1 L596.1,1189.7 L600.0,1188.2 L605.5,1185.7 L610.4,1183.2 L615.7,1180.5 L619.7,1178.6 L624.1,1176.5 L628.6,1174.4 L633.2,1172.2 L637.9,1170.1 L642.5,1168.1 L647.3,1166.1 L652.0,1164.2 L656.8,1162.4 L661.7,1160.5 L666.7,1158.6 L672.0,1156.5 L672.0,1156.5" stroke="#0000ff" stroke-dasharray="46.63 29.40 6.08 29.40"/>
<path d="M672.0,1156.5 L672.0,1156.5 L676.1,1154.8 L680.4,1153.1 L684.9,1151.2 L689.5,1149.3 L694.1,1147.3 L698.8,1145.4 L703.3,1143.5 L707.8,1141.7 L712.1,1139.9 L716.2,1138.3 L721.3,1136.3 L726.2,1134.5 L730.9,1132.8 L735.6,1131.2 L740.2,1129.5 L745.0,1127.7 L749.9,1125.8 L754.7,1124.0 L759.5,1122.1 L764.4,1120.2 L769.5,1118.2 L774.8,1116.2 L774.8,1116.2" stroke="#0000ff" stroke-dasharray="46.18 29.11 6.02 29.11"/>
<path d="M774.8,1116.2 L774.8,1116.2 L779.0,1114.7 L783.4,1113.0 L788.0,1111.4 L792.6,1109.7 L797.4,1108.0 L802.1,1106.3 L806.8,1104.6 L811.4,1103.0 L815.8,1101.4 L819.9,1099.9 L825.1,1098.0 L829.9,1096.2 L834.6,1094.4 L839.3,1092.7 L843.9,1091.0 L848.7,1089.3 L853.1,1087.8 L857.7,1086.2 L862.3,1084.7 L866.8,1083.2 L871.3,1081.7 L875.6,1080.2 L879.4,1078.8" stroke="#0000ff" stroke-dasharray="46.47 29.30 6.06 29.30"/>
<path d="M879.4,1078.8 L879.7,1078.7 L885.1,1076.5 L890.1,1074.3 L894.9,1072.2 L900.0,1070.1 L905.4,1068.1 L910.9,1066.3 L916.5,1064.4 L922.3,1062.4 L927.0,1060.7 L931.9,1058.8 L936.9,1056.9 L942.0,1054.9 L947.0,1052.9 L952.0,1050.9 L956.2,1049.2 L960.4,1047.5 L964.6,1045.8 L968.7,1044.1 L973.0,1042.3 L977.3,1040.4 L981.8,1038.4 L981.8,1038.4" stroke="#0000ff" stroke-dasharray="46.04 29.02 6.00 29.02"/>
<path d="M981.8,1038.4 L981.8,1038.4 L985.6,1036.7 L989.6,1034.9 L993.7,1033.0 L997.8,1031.1 L1002.0,1029.1 L1006.2,1027.1 L1010.3,1025.1 L1014.4,1023.1 L1018.3,1021.1 L1022.1,1019.2 L1026.6,1016.8 L1031.0,1014.4 L1035.3,1011.9 L1039.5,1009.5 L1043.6,1007.1 L1047.7,1004.7 L1051.8,1002.4 L1056.2,1000.0 L1060.5,997.7 L1064.7,995.4 L1068.9,993.1 L1073.3,990.7 L1078.0,988.1 L1078.1,988.0" stroke="#0000ff" stroke-dasharray="45.50 28.68 5.93 28.68"/>
<path d="M1078.1,988.0 L1081.6,986.0 L1085.4,983.9 L1089.3,981.6 L1093.4,979.3 L1097.5,976.9 L1101.6,974.5 L1105.6,972.1 L1109.5,969.7 L1113.2,967.3 L1116.7,965.0 L1121.2,961.8 L1125.5,958.6 L1129.6,955.4 L1133.5,952.2 L1137.5,949.0 L1141.6,945.8 L1145.7,942.7 L1149.8,939.6 L1153.9,936.5 L1158.1,933.4 L1162.3,930.1 L1166.6,926.6 L1166.6,926.6" stroke="#0000ff" stroke-dasharray="45.11 28.44 5.88 28.44"/>
<path d="M1166.6,926.6 L1166.6,926.6 L1169.8,923.9 L1173.0,921.1 L1176.3,918.1 L1179.7,915.1 L1183.1,912.0 L1186.4,908.9 L1189.8,905.8 L1193.0,902.8 L1196.2,899.8 L1199.2,896.9 L1202.7,893.5 L1206.2,890.2 L1209.5,886.9 L1212.7,883.6 L1215.9,880.4 L1219.1,877.1 L1222.3,873.8 L1225.5,870.5 L1228.6,867.2 L1231.7,863.9 L1234.9,860.6 L1238.0,857.1 L1241.2,853.6 L1244.4,849.8 L1244.4,849.8" stroke="#0000ff" stroke-dasharray="45.75 28.84 5.97 28.84"/>
<path d="M1244.4,849.8 L1244.4,849.8 L1247.2,846.5 L1250.1,843.0 L1253.1,839.3 L1256.0,835.6 L1259.0,831.8 L1262.0,828.0 L1265.0,824.2 L1267.8,820.4 L1270.6,816.8 L1273.2,813.3 L1276.2,809.3 L1279.0,805.3 L1281.7,801.5 L1284.4,797.7 L1287.0,793.9 L1289.7,790.2 L1292.4,786.4 L1295.1,782.7 L1297.9,779.2 L1300.6,775.6 L1303.3,772.1 L1306.1,768.4 L1308.8,764.6 L1311.6,760.5 L1311.6,760.5" stroke="#0000ff" stroke-dasharray="46.75 29.47 6.10 29.47"/>
<path d="M1311.6,760.5 L1311.6,760.5 L1314.0,756.8 L1316.4,752.9 L1318.8,748.8 L1321.3,744.6 L1323.7,740.3 L1326.1,736.0 L1328.6,731.7 L1330.9,727.6 L1333.2,723.6 L1335.5,719.9 L1338.5,715.1 L1341.4,710.6 L1344.2,706.3 L1347.0,702.0 L1349.8,697.7 L1352.6,693.3 L1355.1,689.3 L1357.6,685.4 L1360.1,681.5 L1362.6,677.5 L1365.2,673.4 L1367.7,669.3 L1369.5,666.4" stroke="#0000ff" stroke-dasharray="46.21 29.13 6.03 29.13"/>
<path d="M1369.5,666.4 L1370.4,665.0 L1372.5,661.3 L1374.8,657.4 L1377.1,653.4 L1379.4,649.4 L1381.7,645.3 L1384.0,641.2 L1386.3,637.1 L1388.5,633.2 L1390.7,629.4 L1392.8,625.7 L1395.5,620.9 L1398.1,616.4 L1400.6,611.9 L1403.1,607.6 L1405.6,603.2 L1408.2,598.8 L1410.9,594.3 L1413.5,589.8 L1416.1,585.3 L1418.9,580.8 L1421.7,576.2 L1424.5,571.9" stroke="#0000ff" stroke-dasharray="45.74 28.83 5.97 28.83"/>
<path d="M1424.5,571.9 L1424.8,571.5 L1427.0,568.0 L1429.4,564.3 L1431.9,560.6 L1434.4,556.8 L1437.0,553.0 L1439.7,549.2 L1442.3,545.6 L1445.0,542.0 L1447.6,538.6 L1450.2,535.4 L1453.7,531.3 L1457.2,527.3 L1460.7,523.6 L1464.3,520.1 L1467.8,516.8 L1471.3,513.6 L1476.4,509.7 L1481.8,505.9 L1486.6,502.7 L1490.0,500.5 L1496.8,499.9 L1503.3,499.4" stroke="#0000ff" stroke-dasharray="46.49 29.31 6.06 29.31"/>
<path d="M1503.3,499.4 L1503.5,499.4 L1506.0,500.7 L1509.4,502.4 L1513.5,504.3 L1518.0,506.5 L1522.6,509.0 L1527.2,511.6 L1531.5,514.3 L1535.2,517.2 L1538.8,520.6 L1542.1,524.3 L1545.3,528.3 L1548.2,532.4 L1551.1,536.6 L1553.8,540.8 L1556.6,545.0 L1559.1,549.0 L1561.5,552.9 L1563.9,556.8 L1566.1,560.9 L1568.3,565.0 L1570.5,569.3 L1572.6,573.7" stroke="#0000ff" stroke-dasharray="43.81 27.62 5.71 27.62"/>
<path d="M1572.6,573.7 L1572.7,573.8 L1574.5,577.8 L1576.2,582.0 L1578.0,586.3 L1579.7,590.8 L1581.5,595.4 L1583.1,599.9 L1584.8,604.4 L1586.5,608.8 L1588.1,613.1 L1589.7,617.1 L1591.6,621.6 L1593.4,626.0 L1595.2,630.2 L1597.0,634.4 L1598.7,638.5 L1600.5,642.6 L1602.2,646.8 L1604.2,651.8 L1606.1,656.7 L1608.0,661.7 L1609.9,666.7 L1611.8,671.7 L1613.7,676.6 L1613.7,676.6" stroke="#0000ff" stroke-dasharray="46.34 29.22 6.04 29.22"/>
<path d="M1613.7,676.6 L1613.7,676.6 L1615.6,681.4 L1617.6,686.3 L1619.6,691.2 L1621.5,696.0 L1623.3,700.5 L1624.8,704.8 L1626.4,710.4 L1627.6,715.5 L1629.1,721.1 L1630.4,725.4 L1631.8,730.1 L1633.4,735.0 L1635.0,740.0 L1636.7,745.0 L1638.5,749.9 L1640.1,754.2 L1641.7,758.5 L1643.5,762.8 L1645.3,767.1 L1647.1,771.5 L1648.9,776.0 L1650.7,780.7 L1650.7,780.7" stroke="#0000ff" stroke-dasharray="46.25 29.16 6.03 29.16"/>
<path d="M1650.7,780.7 L1650.7,780.7 L1652.2,784.7 L1653.7,788.8 L1655.3,793.1 L1656.9,797.4 L1658.5,801.8 L1660.1,806.2 L1661.6,810.5 L1663.2,814.8 L1664.7,818.9 L1666.1,822.9 L1667.8,827.5 L1669.3,832.0 L1670.8,836.4 L1672.3,840.7 L1673.9,845.0 L1675.4,849.3 L1677.0,853.6 L1678.6,857.8 L1680.3,862.0 L1682.0,866.1 L1683.7,870.3 L1685.5,874.5 L1687.3,878.9 L1689.1,883.4 L1689.1,883.4" stroke="#0000ff" stroke-dasharray="45.86 28.91 5.98 28.91"/>
<path d="M1689.1,883.4 L1689.1,883.4 L1690.7,887.4 L1692.4,891.7 L1694.1,896.1 L1695.9,900.5 L1697.7,905.1 L1699.5,909.6 L1701.3,914.0 L1703.0,918.4 L1704.7,922.6 L1706.4,926.6 L1708.6,931.8 L1710.6,936.7 L1712.6,941.4 L1714.7,946.0 L1716.7,950.7 L1718.9,955.4 L1720.8,959.5 L1722.8,963.5 L1724.8,967.5 L1726.8,971.5 L1728.9,975.6 L1731.1,979.8 L1733.3,984.2 L1733.3,984.2" stroke="#0000ff" stroke-dasharray="46.06 29.04 6.01 29.04"/>
<path d="M1733.3,984.2 L1733.3,984.2 L1735.3,988.1 L1737.3,992.2 L1739.4,996.5 L1741.6,1000.9 L1743.8,1005.3 L1746.0,1009.7 L1748.2,1014.0 L1750.4,1018.2 L1752.5,1022.2 L1754.6,1025.9 L1757.3,1030.5 L1759.9,1034.7 L1762.4,1038.8 L1765.0,1042.8 L1767.6,1046.8 L1770.3,1050.9 L1772.7,1054.7 L1775.2,1058.4 L1777.6,1062.2 L1780.1,1066.0 L1782.7,1069.9 L1785.4,1073.8 L1788.2,1077.8 L1788.2,1077.8" stroke="#0000ff" stroke-dasharray="45.44 28.65 5.93 28.65"/>
<path d="M1788.2,1077.8 L1788.2,1077.8 L1790.6,1081.2 L1793.2,1084.8 L1795.9,1088.4 L1798.6,1092.2 L1801.4,1095.9 L1804.1,1099.6 L1806.9,1103.2 L1809.7,1106.7 L1812.4,1110.1 L1815.1,1113.3 L1818.6,1117.4 L1822.1,1121.2 L1825.6,1124.8 L1829.0,1128.3 L1832.5,1131.8 L1836.2,1135.4 L1839.6,1138.7 L1843.0,1142.0 L1846.4,1145.2 L1849.9,1148.5 L1853.5,1151.7 L1857.3,1155.0 L1861.2,1158.4 L1861.2,1158.4" stroke="#0000ff" stroke-dasharray="45.62 28.76 5.95 28.76"/>
<path d="M1861.2,1158.4 L1861.2,1158.4 L1864.6,1161.3 L1868.1,1164.2 L1871.8,1167.2 L1875.6,1170.3 L1879.4,1173.3 L1883.3,1176.4 L1887.2,1179.3 L1891.1,1182.1 L1894.9,1184.8 L1898.6,1187.3 L1902.6,1189.8 L1906.7,1192.2 L1910.7,1194.4 L1914.8,1196.5 L1918.7,1198.5 L1922.7,1200.5 L1926.6,1202.5 L1930.4,1204.5 L1934.8,1206.9 L1938.9,1209.2 L1942.9,1211.4 L1947.1,1213.6 L1951.5,1215.8 L1956.2,1218.0 L1956.2,1218.0" stroke="#0000ff" stroke-dasharray="47.08 29.68 6.14 29.68"/>
<path d="M1956.2,1218.0 L1956.2,1218.0 L1959.9,1219.6 L1963.9,1221.1 L1968.2,1222.8 L1972.6,1224.4 L1977.1,1226.0 L1981.6,1227.5 L1986.1,1229.0 L1990.4,1230.5 L1994.4,1231.9 L1998.1,1233.1 L2001.4,1234.3 L2008.0,1236.6 L2013.6,1238.6 L2017.5,1240.0" stroke="#0000ff" stroke-dasharray="46.00 29.00 6.00 29.00"/>
<path d="M374.8,1293.0 L377.8,1292.3 L382.0,1291.3 L386.9,1290.2 L392.4,1288.9 L397.9,1287.6 L403.2,1286.1 L408.0,1284.6 L412.6,1283.0 L417.1,1281.3 L421.4,1279.5 L425.7,1277.5 L430.0,1275.5 L434.3,1273.2 L438.4,1270.9 L442.5,1268.4 L446.6,1265.8 L450.7,1263.0 L454.7,1260.2 L458.7,1257.4 L462.4,1254.5 L466.4,1251.3 L470.1,1248.0 L473.8,1244.6 L477.4,1241.2 L481.1,1237.8 L485.0,1234.3 L485.1,1234.3" stroke="#ff00ff" stroke-dasharray="32.51 27.25 6.22 27.25 6.22 27.73"/>
<path d="M485.1,1234.3 L488.5,1231.5 L492.2,1228.5 L496.0,1225.6 L499.8,1222.6 L503.6,1219.7 L507.3,1216.7 L510.8,1213.7 L514.1,1210.7 L517.7,1207.1 L520.9,1203.6 L524.0,1200.1 L527.0,1196.5 L530.1,1192.9 L533.4,1189.2 L536.7,1185.6 L540.1,1181.9 L543.5,1178.1 L547.0,1174.3 L550.5,1170.5 L554.0,1166.9 L557.4,1163.3 L561.0,1159.6 L564.4,1155.9 L567.9,1152.2 L571.4,1148.7 L574.9,1145.3 L578.5,1142.1 L578.5,1142.1" stroke="#ff00ff" stroke-dasharray="33.62 28.18 6.43 28.18 6.43 28.67"/>
<path d="M578.5,1142.1 L578.5,1142.1 L582.9,1138.7 L587.6,1135.5 L592.2,1132.5 L596.5,1129.6 L600.0,1126.8 L607.6,1118.1 L610.5,1115.2 L613.9,1111.9 L617.7,1108.5 L621.7,1104.8 L625.7,1101.2 L629.6,1097.5 L632.8,1094.4 L636.0,1091.2 L639.3,1087.9 L642.6,1084.6 L645.9,1081.3 L649.2,1078.1 L652.4,1074.9 L655.7,1072.0 L659.5,1068.7 L663.3,1065.7 L667.0,1062.8 L670.8,1059.9 L674.6,1056.9 L678.7,1053.8 L678.7,1053.8" stroke="#ff00ff" stroke-dasharray="34.24 28.70 6.55 28.70 6.55 29.20"/>
<path d="M678.7,1053.8 L678.7,1053.8 L682.4,1050.9 L686.4,1047.9 L690.4,1044.9 L694.5,1041.8 L698.7,1038.7 L702.7,1035.7 L706.7,1032.7 L710.4,1029.8 L714.5,1026.6 L718.3,1023.6 L722.1,1020.5 L725.8,1017.5 L729.6,1014.5 L733.5,1011.5 L737.1,1008.7 L740.7,1005.9 L744.3,1003.1 L748.0,1000.3 L751.7,997.5 L755.5,994.7 L759.3,991.9 L763.4,989.0 L767.7,986.0 L772.1,983.1 L776.4,980.1 L780.6,977.3 L784.4,974.7 L787.9,972.2 L788.0,972.2" stroke="#ff00ff" stroke-dasharray="34.88 29.24 6.67 29.24 6.67 29.75"/>
<path d="M788.0,972.2 L794.2,967.5 L800.0,963.1 L804.8,960.0 L809.9,956.9 L815.5,953.5 L819.0,951.3 L822.6,948.9 L826.5,946.4 L830.4,943.8 L834.4,941.2 L838.4,938.5 L842.4,935.9 L846.6,933.1 L850.8,930.3 L855.1,927.4 L859.4,924.5 L863.7,921.7 L868.0,918.9 L872.2,916.1 L876.7,913.1 L881.2,910.3 L885.7,907.4 L890.1,904.6 L894.6,901.7 L899.1,898.8 L899.1,898.8" stroke="#ff00ff" stroke-dasharray="34.05 28.54 6.51 28.54 6.51 29.04"/>
<path d="M899.1,898.8 L899.1,898.8 L903.2,896.1 L907.3,893.4 L911.4,890.6 L915.6,887.8 L919.7,885.0 L923.8,882.3 L927.9,879.6 L932.4,876.7 L936.9,874.0 L941.3,871.2 L945.8,868.5 L950.3,865.8 L954.8,862.9 L958.9,860.2 L963.0,857.5 L967.1,854.8 L971.3,852.0 L975.4,849.2 L979.5,846.4 L983.6,843.7 L987.5,841.1 L991.4,838.6 L995.2,836.0 L999.0,833.5 L1002.9,831.0 L1006.7,828.4 L1010.5,825.8 L1010.5,825.8" stroke="#ff00ff" stroke-dasharray="34.05 28.54 6.51 28.54 6.51 29.04"/>
<path d="M1010.5,825.8 L1010.5,825.8 L1014.4,823.1 L1018.2,820.4 L1022.1,817.6 L1025.9,814.9 L1029.7,812.1 L1033.6,809.3 L1037.4,806.6 L1041.2,803.9 L1045.0,801.3 L1048.7,798.7 L1052.5,796.0 L1056.3,793.4 L1060.1,790.8 L1064.0,788.1 L1068.1,785.3 L1072.2,782.5 L1076.3,779.6 L1080.5,776.8 L1084.6,773.9 L1088.7,771.1 L1092.7,768.2 L1096.5,765.5 L1100.2,762.7 L1103.9,760.0 L1107.5,757.3 L1111.2,754.5 L1114.9,751.8 L1118.6,749.0 L1118.6,749.0" stroke="#ff00ff" stroke-dasharray="33.90 28.42 6.48 28.42 6.48 28.92"/>
<path d="M1118.6,749.0 L1118.6,749.0 L1122.5,746.1 L1126.5,743.2 L1130.5,740.3 L1134.5,737.4 L1138.5,734.5 L1142.5,731.7 L1146.4,728.8 L1150.1,726.1 L1153.8,723.4 L1157.4,720.7 L1161.1,718.0 L1164.8,715.3 L1168.5,712.6 L1172.3,709.8 L1176.0,707.1 L1179.8,704.4 L1183.7,701.6 L1187.6,698.7 L1191.5,696.0 L1195.3,693.2 L1199.2,690.5 L1202.9,687.9 L1207.3,684.9 L1211.6,681.9 L1215.8,679.1 L1220.0,676.3 L1224.3,673.4 L1228.8,670.6 L1228.8,670.6" stroke="#ff00ff" stroke-dasharray="34.58 28.99 6.61 28.99 6.61 29.49"/>
<path d="M1228.8,670.6 L1228.8,670.6 L1233.0,667.9 L1237.4,665.3 L1241.8,662.6 L1246.3,659.9 L1250.8,657.3 L1255.2,654.8 L1259.6,652.4 L1264.2,649.9 L1268.8,647.6 L1273.3,645.3 L1277.9,643.1 L1282.6,641.0 L1287.4,638.9 L1291.5,637.2 L1295.8,635.6 L1300.1,634.0 L1304.5,632.4 L1308.9,631.0 L1313.3,629.6 L1317.7,628.4 L1322.0,627.4 L1327.2,626.4 L1332.3,625.5 L1337.5,624.9 L1342.6,624.4 L1347.6,624.2 L1352.6,624.1 L1353.7,624.1" stroke="#ff00ff" stroke-dasharray="34.55 28.96 6.61 28.96 6.61 29.47"/>
<path d="M1353.7,624.1 L1358.5,624.3 L1364.6,624.9 L1370.5,625.7 L1375.8,626.5 L1380.0,627.4 L1386.1,629.5 L1389.5,630.9 L1393.7,632.6 L1398.5,634.7 L1403.5,637.0 L1408.4,639.4 L1413.0,642.0 L1417.0,644.5 L1420.9,647.2 L1424.8,650.1 L1428.6,653.1 L1432.4,656.1 L1436.2,659.2 L1439.9,662.2 L1444.1,665.6 L1448.2,669.1 L1452.2,672.6 L1456.2,676.1 L1460.1,679.7 L1463.9,683.3 L1463.9,683.3" stroke="#ff00ff" stroke-dasharray="32.80 27.49 6.27 27.49 6.27 27.98"/>
<path d="M1463.9,683.3 L1463.9,683.3 L1467.4,686.7 L1470.7,690.0 L1473.9,693.4 L1477.1,696.9 L1480.3,700.5 L1483.5,704.3 L1486.4,707.9 L1489.2,711.6 L1492.1,715.5 L1494.9,719.5 L1497.8,723.6 L1500.6,727.6 L1503.4,731.6 L1506.1,735.5 L1509.1,739.7 L1512.0,743.8 L1514.9,748.0 L1517.8,752.1 L1520.6,756.2 L1523.5,760.3 L1526.3,764.3 L1529.4,768.7 L1532.5,773.0 L1535.5,777.3 L1538.5,781.6 L1541.5,785.9 L1544.5,790.3 L1544.5,790.3" stroke="#ff00ff" stroke-dasharray="34.31 28.76 6.56 28.76 6.56 29.26"/>
<path d="M1544.5,790.3 L1544.5,790.3 L1547.1,794.3 L1549.8,798.4 L1552.4,802.6 L1555.0,806.7 L1557.6,810.9 L1560.2,815.0 L1562.8,819.1 L1565.7,823.6 L1568.6,828.1 L1571.4,832.5 L1574.3,837.0 L1577.2,841.5 L1580.1,846.0 L1582.8,850.2 L1585.5,854.4 L1588.2,858.7 L1591.0,863.0 L1593.8,867.3 L1596.5,871.5 L1599.3,875.7 L1602.0,879.7 L1604.8,883.6 L1607.5,887.5 L1610.3,891.4 L1613.0,895.3 L1615.7,899.2 L1617.5,902.0" stroke="#ff00ff" stroke-dasharray="34.12 28.60 6.52 28.60 6.52 29.10"/>
<path d="M1617.5,902.0 L1618.3,903.1 L1621.2,907.5 L1624.0,911.9 L1626.8,916.3 L1629.5,920.7 L1632.3,925.1 L1635.1,929.5 L1637.6,933.3 L1640.0,937.2 L1642.5,941.0 L1645.0,944.8 L1647.5,948.7 L1650.1,952.5 L1652.7,956.4 L1655.5,960.5 L1658.5,964.6 L1661.4,968.8 L1664.4,973.0 L1667.5,977.1 L1670.4,981.2 L1673.4,985.2 L1676.6,989.6 L1679.7,993.8 L1682.9,998.1 L1686.0,1002.3 L1689.3,1006.4 L1692.6,1010.6 L1692.6,1010.6" stroke="#ff00ff" stroke-dasharray="33.77 28.31 6.46 28.31 6.46 28.81"/>
<path d="M1692.6,1010.6 L1692.6,1010.6 L1695.6,1014.2 L1698.8,1017.8 L1701.9,1021.4 L1705.2,1024.9 L1708.4,1028.5 L1711.5,1032.0 L1714.6,1035.5 L1717.9,1039.4 L1721.1,1043.2 L1724.3,1047.1 L1727.4,1050.9 L1730.7,1054.7 L1734.2,1058.6 L1737.1,1061.8 L1740.2,1065.1 L1743.3,1068.3 L1746.5,1071.6 L1749.8,1074.9 L1753.0,1078.1 L1756.2,1081.3 L1759.4,1084.5 L1762.8,1087.9 L1766.2,1091.3 L1769.6,1094.6 L1773.0,1097.9 L1776.4,1101.1 L1779.9,1104.4 L1783.4,1107.6 L1783.4,1107.6" stroke="#ff00ff" stroke-dasharray="34.00 28.50 6.50 28.50 6.50 29.00"/>
<path d="M1783.4,1107.6 L1783.4,1107.6 L1787.0,1110.8 L1790.7,1114.1 L1794.3,1117.3 L1798.0,1120.5 L1801.8,1123.6 L1805.5,1126.6 L1809.3,1129.6 L1813.5,1132.8 L1817.8,1135.9 L1822.0,1139.0 L1826.3,1141.9 L1830.7,1144.9 L1835.2,1147.9 L1838.9,1150.3 L1842.7,1152.8 L1846.5,1155.2 L1850.4,1157.7 L1854.4,1160.1 L1858.3,1162.5 L1862.2,1164.8 L1866.0,1167.1 L1870.1,1169.6 L1874.2,1172.0 L1878.3,1174.3 L1882.4,1176.7 L1886.5,1178.9 L1890.6,1181.2 L1894.8,1183.4 L1894.8,1183.4" stroke="#ff00ff" stroke-dasharray="34.54 28.95 6.60 28.95 6.60 29.46"/>
<path d="M1894.8,1183.4 L1894.8,1183.4 L1899.1,1185.6 L1903.5,1187.7 L1907.9,1189.9 L1912.3,1191.9 L1916.7,1193.9 L1921.1,1195.9 L1925.5,1197.9 L1929.7,1199.8 L1934.0,1201.6 L1938.2,1203.4 L1942.4,1205.2 L1946.6,1206.9 L1950.9,1208.6 L1955.3,1210.3 L1960.0,1212.0 L1964.8,1213.7 L1969.7,1215.3 L1974.6,1216.9 L1979.5,1218.6 L1984.3,1220.2 L1988.9,1221.8 L1994.0,1223.7 L1999.4,1225.7 L2004.7,1227.8 L2009.6,1229.6 L2013.7,1231.2 L2016.7,1232.4" stroke="#ff00ff" stroke-dasharray="34.00 28.50 6.50 28.50 6.50 29.00"/>
<path d="M374.8,1293.0 L377.9,1293.1 L381.0,1293.2 L384.1,1293.1 L387.2,1293.0 L390.2,1292.9 L393.3,1292.7 L396.3,1292.4 L399.3,1292.0 L402.3,1291.6 L405.3,1291.1 L408.2,1290.6 L410.0,1290.2" stroke="#008000" stroke-dasharray="0.60 17.12"/>
<path d="M410.0,1290.2 L411.2,1290.0 L414.1,1289.3 L417.0,1288.6 L419.9,1287.8 L422.8,1287.0 L425.6,1286.1 L428.4,1285.1 L431.3,1284.2 L434.0,1283.1 L436.8,1282.0 L439.6,1280.9 L442.3,1279.7 L445.0,1278.5 L447.7,1277.2 L450.4,1275.8 L453.1,1274.5 L455.7,1273.1 L458.4,1271.6 L461.0,1270.1 L463.6,1268.6 L466.1,1267.0 L468.7,1265.4 L471.2,1263.7 L473.7,1262.1 L476.2,1260.4 L478.6,1258.6 L481.1,1256.8 L483.5,1255.0 L485.9,1253.2 L488.3,1251.3 L490.6,1249.4 L493.0,1247.5 L495.3,1245.6 L497.6,1243.6 L499.8,1241.6 L502.1,1239.6 L504.3,1237.5 L506.5,1235.5 L508.7,1233.4 L510.9,1231.3 L513.0,1229.2 L515.1,1227.1 L517.2,1224.9 L519.3,1222.8 L521.3,1220.6 L523.3,1218.4 L525.3,1216.2 L527.3,1214.0 L529.3,1211.8 L531.2,1209.5 L533.2,1207.3 L535.1,1205.0 L537.0,1202.7 L538.8,1200.5 L540.7,1198.1 L542.5,1195.8 L544.3,1193.5 L546.1,1191.2 L547.9,1188.8 L549.7,1186.4 L551.5,1184.1 L553.2,1181.7 L554.9,1179.3 L556.6,1176.9 L558.0,1174.9" stroke="#008000" stroke-dasharray="0.60 16.86"/>
<path d="M558.0,1174.9 L558.3,1174.5 L560.0,1172.1 L561.7,1169.6 L563.4,1167.2 L565.0,1164.7 L566.6,1162.3 L568.3,1159.8 L569.9,1157.3 L571.5,1154.9 L573.1,1152.4 L574.7,1149.9 L576.2,1147.4 L577.8,1144.9 L579.4,1142.4 L580.9,1139.8 L582.5,1137.3 L584.0,1134.8 L585.5,1132.3 L587.1,1129.7 L588.6,1127.2 L590.1,1124.6 L591.6,1122.1 L593.1,1119.5 L594.6,1117.0 L596.1,1114.4 L597.6,1111.8 L599.0,1109.3 L600.5,1106.7 L602.0,1104.1 L603.5,1101.6 L605.0,1099.0 L606.4,1096.4 L607.9,1093.8 L609.3,1091.3 L610.8,1088.7 L612.3,1086.1 L613.7,1083.5 L615.2,1080.9 L616.6,1078.3 L618.1,1075.7 L619.5,1073.1 L620.9,1070.5 L622.4,1067.9 L623.8,1065.3 L625.2,1062.7 L626.7,1060.1 L628.1,1057.5 L629.5,1054.9 L630.9,1052.3 L632.4,1049.6 L633.8,1047.0 L635.2,1044.4 L636.6,1041.8 L638.0,1039.2 L639.4,1036.5 L640.8,1033.9 L642.3,1031.3 L643.7,1028.7 L645.1,1026.0 L646.5,1023.4 L647.5,1021.4" stroke="#008000" stroke-dasharray="0.61 17.17"/>
<path d="M647.5,1021.4 L647.9,1020.8 L649.3,1018.1 L650.6,1015.5 L652.0,1012.9 L653.4,1010.2 L654.8,1007.6 L656.2,1004.9 L657.6,1002.3 L659.0,999.6 L660.4,997.0 L661.8,994.3 L663.1,991.7 L664.5,989.1 L665.9,986.4 L667.3,983.7 L668.7,981.1 L670.0,978.4 L671.4,975.8 L672.8,973.1 L674.2,970.5 L675.6,967.8 L676.9,965.2 L678.3,962.5 L679.7,959.8 L681.0,957.2 L682.4,954.5 L683.8,951.9 L685.2,949.2 L686.5,946.5 L687.9,943.9 L689.3,941.2 L690.7,938.5 L692.0,935.9 L693.4,933.2 L694.8,930.5 L696.1,927.9 L697.5,925.2 L698.9,922.5 L700.2,919.9 L701.6,917.2 L703.0,914.5 L704.4,911.9 L705.7,909.2 L707.1,906.5 L708.5,903.8 L709.9,901.2 L711.2,898.5 L712.6,895.8 L714.0,893.2 L715.4,890.5 L716.7,887.8 L718.1,885.2 L719.5,882.5 L720.9,879.8 L722.3,877.1 L723.6,874.5 L725.0,871.8 L726.4,869.1 L727.8,866.5 L729.2,863.8 L730.6,861.1 L732.0,858.5 L733.4,855.8 L734.8,853.1 L736.2,850.4 L737.5,847.8 L738.9,845.1 L740.3,842.4 L741.7,839.8 L743.2,837.1 L744.6,834.5 L746.0,831.8 L747.4,829.1 L748.8,826.5 L750.2,823.8 L751.6,821.1 L753.0,818.5 L754.4,815.8 L755.9,813.2 L757.3,810.5 L758.7,807.9 L760.1,805.2 L761.6,802.5 L763.0,799.9 L764.4,797.2 L765.9,794.6 L767.3,791.9 L768.8,789.3 L770.2,786.7 L771.7,784.0 L773.1,781.4 L774.6,778.7 L776.0,776.1 L777.5,773.5 L778.9,770.8 L779.6,769.7" stroke="#008000" stroke-dasharray="0.61 17.16"/>
<path d="M779.6,769.7 L780.4,768.2 L781.9,765.6 L783.3,762.9 L784.8,760.3 L786.3,757.7 L787.8,755.1 L789.2,752.4 L790.7,749.8 L792.2,747.2 L793.7,744.6 L795.2,742.0 L796.7,739.4 L798.2,736.7 L799.7,734.1 L801.2,731.5 L802.7,728.9 L804.3,726.3 L805.8,723.7 L807.3,721.2 L808.8,718.6 L810.4,716.0 L811.9,713.4 L813.4,710.8 L815.0,708.2 L816.5,705.7 L818.1,703.1 L819.6,700.5 L821.2,697.9 L822.7,695.4 L824.3,692.8 L825.9,690.3 L827.5,687.7 L829.0,685.2 L830.6,682.6 L832.2,680.1 L833.8,677.5 L835.4,675.0 L837.0,672.4 L838.6,669.9 L840.2,667.4 L841.8,664.9 L843.5,662.3 L845.1,659.8 L846.7,657.3 L848.4,654.8 L850.0,652.3 L851.6,649.8 L853.3,647.3 L854.9,644.8 L856.6,642.3 L858.3,639.8 L859.9,637.4 L861.6,634.9 L863.3,632.4 L865.0,629.9 L866.7,627.5 L868.4,625.0 L870.1,622.6 L871.3,620.8" stroke="#008000" stroke-dasharray="0.60 16.90"/>
<path d="M871.3,620.8 L871.8,620.1 L873.5,617.7 L875.2,615.2 L876.9,612.8 L878.7,610.4 L880.4,607.9 L882.1,605.5 L883.9,603.1 L885.6,600.7 L887.4,598.3 L889.2,595.9 L890.9,593.5 L892.7,591.1 L894.5,588.7 L896.3,586.3 L898.1,583.9 L899.9,581.6 L901.7,579.2 L903.1,577.4" stroke="#008000" stroke-dasharray="0.61 17.32"/>
<path d="M903.1,577.4 L903.5,576.8 L905.3,574.5 L907.2,572.1 L909.0,569.8 L910.9,567.5 L912.8,565.1 L914.7,562.8 L916.6,560.5 L918.5,558.2 L920.4,555.9 L922.4,553.7 L924.3,551.4 L926.3,549.2 L928.3,546.9 L930.3,544.7 L932.4,542.4 L934.4,540.2 L936.5,538.0 L938.6,535.8 L940.7,533.7 L942.9,531.5 L945.0,529.3 L947.2,527.2 L949.4,525.1 L951.6,523.0 L953.9,520.9 L956.2,518.8 L958.5,516.7 L960.8,514.7 L963.2,512.7 L965.5,510.7 L967.9,508.7 L970.4,506.8 L972.8,504.9 L975.3,503.1 L977.8,501.2 L980.3,499.4 L982.9,497.7 L985.4,496.0 L988.0,494.3 L990.6,492.7 L993.3,491.1 L995.9,489.6 L998.6,488.2 L1001.3,486.7 L1004.1,485.4 L1006.8,484.1 L1009.6,482.9 L1012.4,481.7 L1015.2,480.6 L1018.1,479.5 L1020.9,478.5 L1023.8,477.6 L1026.7,476.8 L1029.6,476.0 L1032.5,475.3 L1035.5,474.7 L1038.4,474.1 L1041.3,473.6 L1043.1,473.4" stroke="#008000" stroke-dasharray="0.61 17.27"/>
<path d="M1043.1,473.4 L1044.3,473.2 L1047.2,472.9 L1050.1,472.7 L1053.1,472.5 L1056.0,472.5 L1058.9,472.5 L1061.8,472.6 L1064.7,472.7 L1067.6,473.0 L1070.4,473.4 L1073.3,473.8 L1076.1,474.4 L1078.9,475.0 L1081.7,475.8 L1084.5,476.6 L1087.2,477.5 L1089.9,478.5 L1092.6,479.6 L1094.3,480.4" stroke="#008000" stroke-dasharray="0.60 16.87"/>
<path d="M1094.3,480.4 L1095.3,480.8 L1097.9,482.0 L1100.5,483.3 L1103.1,484.7 L1105.7,486.1 L1108.3,487.6 L1110.8,489.2 L1113.3,490.8 L1115.8,492.4 L1118.3,494.1 L1120.8,495.9 L1123.2,497.7 L1125.6,499.5 L1128.0,501.3 L1130.4,503.2 L1132.8,505.1 L1135.2,507.0 L1137.5,509.0 L1139.8,510.9 L1142.1,512.9 L1144.4,514.9 L1146.7,516.9 L1148.9,518.9 L1151.2,520.9 L1153.4,522.9 L1155.6,525.0 L1157.8,527.0 L1159.9,529.1 L1162.1,531.2 L1163.2,532.3" stroke="#008000" stroke-dasharray="0.59 16.75"/>
<path d="M1163.2,532.3 L1164.3,533.3 L1166.4,535.4 L1168.5,537.5 L1170.6,539.6 L1172.7,541.8 L1174.8,543.9 L1176.8,546.1 L1178.9,548.3 L1180.9,550.5 L1182.9,552.7 L1184.9,554.9 L1186.9,557.1 L1188.9,559.3 L1190.9,561.6 L1192.8,563.8 L1194.8,566.1 L1196.7,568.4 L1198.6,570.6 L1200.5,572.9 L1202.4,575.2 L1204.3,577.5 L1206.2,579.9 L1208.1,582.2 L1209.9,584.5 L1211.8,586.9 L1213.6,589.2 L1215.4,591.6 L1217.2,594.0 L1219.0,596.3 L1220.8,598.7 L1222.6,601.1 L1224.4,603.5 L1226.1,605.9 L1227.9,608.4 L1229.7,610.8 L1231.4,613.2 L1233.1,615.7 L1234.8,618.1 L1236.6,620.6 L1238.3,623.0 L1240.0,625.5 L1241.7,628.0 L1243.3,630.5 L1245.0,632.9 L1246.7,635.4 L1248.4,637.9 L1250.0,640.4 L1251.7,642.9 L1252.5,644.2" stroke="#008000" stroke-dasharray="0.61 17.31"/>
<path d="M1252.5,644.2 L1253.3,645.5 L1254.9,648.0 L1256.6,650.5 L1258.2,653.0 L1259.8,655.6 L1261.4,658.1 L1263.0,660.6 L1264.7,663.2 L1266.3,665.7 L1267.8,668.3 L1269.4,670.8 L1271.0,673.4 L1272.6,676.0 L1274.2,678.5 L1275.8,681.1 L1277.3,683.7 L1278.9,686.3 L1280.5,688.8 L1282.0,691.4 L1283.6,694.0 L1285.1,696.6 L1286.7,699.2 L1288.3,701.8 L1289.8,704.4 L1291.4,707.0 L1292.9,709.6 L1294.4,712.2 L1296.0,714.8 L1297.5,717.4 L1299.1,720.0 L1300.6,722.6 L1302.1,725.2 L1303.7,727.8 L1305.2,730.4 L1306.8,733.0 L1308.3,735.6 L1309.8,738.2 L1311.4,740.8 L1312.9,743.4 L1314.5,746.0 L1316.0,748.6 L1317.5,751.2 L1319.1,753.8 L1320.6,756.4 L1322.2,759.0 L1323.7,761.6 L1325.3,764.2 L1326.8,766.8 L1328.4,769.4 L1329.9,772.0 L1331.5,774.6 L1333.0,777.2 L1334.6,779.7 L1336.2,782.3 L1337.7,784.9 L1339.3,787.5 L1340.9,790.1 L1342.5,792.6 L1344.1,795.2 L1344.8,796.4" stroke="#008000" stroke-dasharray="0.61 17.20"/>
<path d="M1344.8,796.4 L1345.6,797.8 L1347.2,800.4 L1348.8,802.9 L1350.4,805.5 L1352.0,808.0 L1353.6,810.6 L1355.2,813.2 L1356.8,815.7 L1358.4,818.3 L1360.0,820.8 L1361.6,823.3 L1363.3,825.9 L1364.9,828.4 L1366.5,831.0 L1368.1,833.5 L1369.8,836.0 L1371.4,838.6 L1373.0,841.1 L1374.7,843.6 L1376.3,846.1 L1378.0,848.6 L1379.6,851.1 L1381.3,853.6 L1383.0,856.1 L1384.6,858.7 L1386.3,861.1 L1388.0,863.6 L1389.7,866.1 L1391.4,868.6 L1393.0,871.1 L1394.7,873.6 L1396.4,876.1 L1398.1,878.5 L1399.9,881.0 L1401.6,883.5 L1403.0,885.5" stroke="#008000" stroke-dasharray="0.61 17.15"/>
<path d="M1403.0,885.5 L1403.3,885.9 L1405.0,888.4 L1406.7,890.8 L1408.5,893.3 L1410.2,895.7 L1412.0,898.2 L1413.7,900.6 L1415.5,903.0 L1417.2,905.5 L1419.0,907.9 L1420.7,910.3 L1422.5,912.7 L1424.3,915.1 L1426.1,917.5 L1427.9,919.9 L1429.7,922.3 L1431.5,924.7 L1433.3,927.1 L1435.1,929.5 L1436.9,931.9 L1438.8,934.2 L1440.6,936.6 L1442.4,939.0 L1444.3,941.3 L1446.1,943.7 L1448.0,946.0 L1449.8,948.4 L1451.7,950.7 L1453.6,953.0 L1455.5,955.4 L1457.3,957.7 L1459.2,960.0 L1461.1,962.3 L1463.0,964.6 L1465.0,966.9 L1466.9,969.2 L1468.8,971.5 L1470.7,973.8 L1472.7,976.1 L1474.6,978.3 L1476.6,980.6 L1478.6,982.9 L1480.5,985.1 L1482.5,987.4 L1484.5,989.6 L1486.5,991.9 L1488.5,994.1 L1490.2,996.1" stroke="#008000" stroke-dasharray="0.60 17.01"/>
<path d="M1490.2,996.1 L1490.5,996.3 L1492.5,998.5 L1494.5,1000.7 L1496.5,1003.0 L1498.6,1005.2 L1500.6,1007.3 L1502.7,1009.5 L1504.7,1011.7 L1506.8,1013.9 L1508.9,1016.1 L1510.9,1018.2 L1513.0,1020.4 L1515.1,1022.5 L1517.2,1024.7 L1519.3,1026.8 L1521.5,1028.9 L1523.6,1031.1 L1525.7,1033.2 L1527.9,1035.3 L1530.0,1037.4 L1532.2,1039.5 L1534.3,1041.5 L1536.5,1043.6 L1538.7,1045.7 L1540.9,1047.8 L1541.2,1048.1" stroke="#008000" stroke-dasharray="0.62 17.60"/>
<path d="M1541.2,1048.1 L1543.1,1049.8 L1545.3,1051.9 L1547.5,1053.9 L1549.7,1055.9 L1551.9,1057.9 L1554.2,1060.0 L1556.4,1062.0 L1558.6,1064.0 L1560.9,1066.0 L1563.2,1067.9 L1565.4,1069.9 L1567.7,1071.9 L1570.0,1073.8 L1572.3,1075.8 L1574.6,1077.7 L1576.9,1079.6 L1579.2,1081.6 L1581.5,1083.5 L1583.8,1085.4 L1586.2,1087.3 L1588.5,1089.1 L1590.9,1091.0 L1593.2,1092.9 L1595.6,1094.7 L1598.0,1096.6 L1600.3,1098.4 L1602.7,1100.2 L1605.1,1102.1 L1607.5,1103.9 L1609.9,1105.7 L1612.3,1107.5 L1614.7,1109.2 L1617.2,1111.0 L1619.6,1112.8 L1622.0,1114.5 L1624.5,1116.2 L1627.0,1118.0 L1629.4,1119.7 L1631.9,1121.4 L1634.4,1123.1 L1636.8,1124.8 L1639.3,1126.4 L1639.7,1126.7" stroke="#008000" stroke-dasharray="0.61 17.40"/>
<path d="M1639.7,1126.7 L1641.8,1128.1 L1644.3,1129.7 L1646.8,1131.4 L1649.4,1133.0 L1651.9,1134.6 L1654.4,1136.2 L1657.0,1137.8 L1659.5,1139.4 L1662.0,1141.0 L1664.6,1142.5 L1667.2,1144.1 L1669.7,1145.6 L1672.3,1147.1 L1674.9,1148.7 L1677.5,1150.2 L1680.1,1151.6 L1682.7,1153.1 L1685.3,1154.6 L1687.9,1156.0 L1690.6,1157.5 L1693.2,1158.9 L1695.8,1160.3 L1698.5,1161.7 L1701.1,1163.1 L1703.8,1164.5 L1706.4,1165.9 L1709.1,1167.2 L1711.8,1168.5 L1714.5,1169.9 L1717.2,1171.2 L1719.9,1172.5 L1722.6,1173.8 L1725.3,1175.0 L1728.0,1176.3 L1730.7,1177.5 L1733.2,1178.7" stroke="#008000" stroke-dasharray="0.61 17.24"/>
<path d="M1733.2,1178.7 L1733.5,1178.8 L1736.2,1180.0 L1738.9,1181.2 L1741.7,1182.4 L1744.4,1183.6 L1747.2,1184.7 L1750.0,1185.9 L1752.7,1187.0 L1755.5,1188.2 L1758.3,1189.3 L1761.1,1190.4 L1763.9,1191.5 L1766.7,1192.5 L1769.5,1193.6 L1772.3,1194.7 L1775.1,1195.7 L1777.9,1196.7 L1780.8,1197.7 L1783.6,1198.8 L1786.4,1199.8 L1789.3,1200.7 L1792.1,1201.7 L1795.0,1202.7 L1797.8,1203.6 L1800.7,1204.6 L1803.5,1205.5 L1806.4,1206.4 L1809.3,1207.3 L1812.2,1208.2 L1815.0,1209.1 L1817.9,1210.0 L1820.8,1210.9 L1823.7,1211.7 L1826.6,1212.6 L1829.5,1213.4 L1832.4,1214.3 L1835.3,1215.1 L1838.2,1215.9 L1841.1,1216.7 L1844.0,1217.5 L1846.9,1218.3 L1849.8,1219.1 L1849.9,1219.1" stroke="#008000" stroke-dasharray="0.60 17.07"/>
<path d="M1849.9,1219.1 L1852.8,1219.9 L1855.7,1220.6 L1858.6,1221.4 L1861.5,1222.1 L1864.5,1222.9 L1867.4,1223.6 L1870.3,1224.3 L1873.3,1225.1 L1876.2,1225.8 L1879.1,1226.5 L1882.1,1227.2 L1885.0,1227.9 L1888.0,1228.5 L1890.9,1229.2 L1893.8,1229.9 L1896.8,1230.6 L1899.7,1231.2 L1902.7,1231.9 L1905.6,1232.5 L1908.6,1233.2 L1911.5,1233.8 L1914.5,1234.4 L1917.4,1235.1 L1920.4,1235.7 L1923.3,1236.3 L1926.3,1236.9 L1929.3,1237.5 L1932.2,1238.1 L1935.2,1238.7 L1936.0,1238.9" stroke="#008000" stroke-dasharray="0.60 17.06"/>
<path d="M1936.0,1238.9 L1938.1,1239.3 L1941.1,1239.9 L1944.0,1240.5 L1947.0,1241.0 L1949.9,1241.6 L1952.9,1242.2 L1955.8,1242.7 L1958.8,1243.3 L1961.7,1243.9 L1964.7,1244.4 L1967.6,1245.0 L1970.6,1245.5 L1973.5,1246.1 L1976.5,1246.6 L1979.4,1247.2 L1982.4,1247.7 L1985.3,1248.2 L1988.2,1248.8 L1991.2,1249.3 L1994.1,1249.8 L1997.0,1250.3 L2000.0,1250.9 L2002.9,1251.4 L2004.9,1251.8" stroke="#008000" stroke-dasharray="0.60 16.93"/>
<path d="M2004.9,1251.8 L2005.8,1251.9 L2008.7,1252.4 L2011.7,1253.0 L2014.6,1253.5 L2017.5,1254.0" stroke="#008000" stroke-dasharray="0.60 17.00"/>
<path d="M374.8,1293.0 L377.9,1293.2 L381.1,1293.4 L384.2,1293.5 L387.3,1293.6 L390.4,1293.6 L393.5,1293.6 L396.6,1293.5 L399.6,1293.4 L402.7,1293.3 L405.8,1293.1 L408.8,1292.9 L411.9,1292.6 L414.9,1292.3 L417.9,1291.9 L420.9,1291.5 L423.9,1291.1 L426.9,1290.6 L429.9,1290.1 L432.9,1289.5 L435.8,1288.9 L438.7,1288.3 L440.7,1287.8" stroke="#000080" stroke-dasharray="26.73 19.09 0.48 20.05"/>
<path d="M440.7,1287.8 L441.7,1287.6 L444.6,1286.8 L447.5,1286.1 L450.4,1285.3 L453.2,1284.4 L456.1,1283.5 L458.9,1282.6 L461.7,1281.7 L464.5,1280.7 L467.3,1279.6 L470.1,1278.6 L472.8,1277.4 L475.6,1276.3 L478.3,1275.1 L481.0,1273.9 L483.7,1272.6 L486.3,1271.3 L489.0,1270.0 L491.6,1268.7 L494.2,1267.3 L496.8,1265.8 L499.4,1264.4 L501.9,1262.9 L503.9,1261.7" stroke="#000080" stroke-dasharray="27.67 19.77 0.49 20.75"/>
<path d="M503.9,1261.7 L504.4,1261.3 L506.9,1259.8 L509.4,1258.2 L511.8,1256.5 L514.3,1254.9 L516.7,1253.2 L519.1,1251.4 L521.5,1249.7 L523.8,1247.9 L526.1,1246.1 L528.4,1244.3 L530.7,1242.4 L533.0,1240.5 L535.3,1238.6 L537.5,1236.6 L539.7,1234.6 L541.9,1232.6 L544.1,1230.6 L546.2,1228.6 L548.4,1226.5 L550.5,1224.4 L552.6,1222.3 L554.7,1220.1 L556.6,1218.1" stroke="#000080" stroke-dasharray="27.63 19.74 0.49 20.72"/>
<path d="M556.6,1218.1 L556.8,1218.0 L558.8,1215.8 L560.8,1213.6 L562.9,1211.4 L564.9,1209.2 L566.9,1206.9 L568.8,1204.6 L570.8,1202.3 L572.7,1200.0 L574.6,1197.7 L576.5,1195.4 L578.4,1193.0 L580.3,1190.7 L582.2,1188.3 L584.0,1185.9 L585.9,1183.5 L587.7,1181.1 L589.5,1178.7 L591.3,1176.2 L593.1,1173.8 L594.8,1171.3 L596.6,1168.9 L598.3,1166.4 L600.1,1163.9 L600.2,1163.7" stroke="#000080" stroke-dasharray="28.13 20.10 0.50 21.10"/>
<path d="M600.2,1163.7 L601.8,1161.4 L603.5,1159.0 L605.2,1156.5 L606.8,1153.9 L608.5,1151.4 L610.2,1148.9 L611.8,1146.4 L613.4,1143.9 L615.1,1141.3 L616.7,1138.8 L618.3,1136.2 L619.9,1133.7 L621.4,1131.1 L623.0,1128.5 L624.5,1126.0 L626.1,1123.4 L627.6,1120.8 L629.1,1118.2 L630.7,1115.6 L632.2,1113.0 L633.6,1110.4 L635.1,1107.8 L636.6,1105.1 L636.9,1104.5" stroke="#000080" stroke-dasharray="28.04 20.03 0.50 21.03"/>
<path d="M636.9,1104.5 L638.1,1102.5 L639.5,1099.9 L640.9,1097.2 L642.4,1094.6 L643.8,1091.9 L645.2,1089.3 L646.6,1086.6 L648.0,1084.0 L649.4,1081.3 L650.8,1078.6 L652.1,1075.9 L653.5,1073.2 L654.8,1070.6 L656.2,1067.9 L657.5,1065.2 L658.8,1062.5 L660.2,1059.8 L661.5,1057.0 L662.8,1054.3 L664.1,1051.6 L665.3,1048.9 L666.6,1046.2 L667.9,1043.4 L668.6,1041.9" stroke="#000080" stroke-dasharray="28.27 20.19 0.50 21.20"/>
<path d="M668.6,1041.9 L669.1,1040.7 L670.4,1038.0 L671.6,1035.2 L672.9,1032.5 L674.1,1029.7 L675.3,1027.0 L676.6,1024.2 L677.8,1021.4 L679.0,1018.7 L680.2,1015.9 L681.4,1013.1 L682.6,1010.4 L683.7,1007.6 L684.9,1004.8 L686.1,1002.0 L687.2,999.2 L688.4,996.5 L689.5,993.7 L690.7,990.9 L691.8,988.1 L693.0,985.3 L694.1,982.5 L695.2,979.7 L696.3,976.9 L696.4,976.8" stroke="#000080" stroke-dasharray="28.54 20.38 0.51 21.40"/>
<path d="M696.4,976.8 L697.4,974.1 L698.6,971.2 L699.7,968.4 L700.8,965.6 L701.9,962.8 L702.9,960.0 L704.0,957.2 L705.1,954.3 L706.2,951.5 L707.3,948.7 L708.3,945.9 L709.4,943.0 L710.5,940.2 L711.5,937.4 L712.6,934.5 L713.6,931.7 L714.7,928.9 L715.7,926.0 L716.8,923.2 L717.8,920.4 L718.9,917.5 L719.9,914.7 L720.8,912.2" stroke="#000080" stroke-dasharray="27.83 19.88 0.50 20.88"/>
<path d="M720.8,912.2 L720.9,911.8 L722.0,909.0 L723.0,906.2 L724.0,903.3 L725.0,900.5 L726.0,897.6 L727.1,894.8 L728.1,891.9 L729.1,889.1 L730.1,886.3 L731.1,883.4 L732.1,880.6 L733.1,877.7 L734.2,874.9 L735.2,872.0 L736.2,869.2 L737.2,866.4 L738.2,863.5 L739.2,860.7 L740.2,857.8 L741.2,855.0 L742.2,852.2 L743.2,849.3 L743.7,847.8" stroke="#000080" stroke-dasharray="27.51 19.65 0.49 20.63"/>
<path d="M743.7,847.8 L744.2,846.5 L745.2,843.6 L746.2,840.8 L747.2,838.0 L748.2,835.1 L749.2,832.3 L750.2,829.4 L751.2,826.6 L752.2,823.8 L753.2,820.9 L754.2,818.1 L755.1,815.3 L756.1,812.4 L757.1,809.6 L758.1,806.8 L759.1,803.9 L760.1,801.1 L761.1,798.2 L762.1,795.4 L763.1,792.6 L764.0,789.7 L765.0,786.9 L766.0,784.1 L766.9,781.6" stroke="#000080" stroke-dasharray="28.29 20.20 0.51 21.21"/>
<path d="M766.9,781.6 L767.0,781.2 L768.0,778.4 L769.0,775.6 L769.9,772.7 L770.9,769.9 L771.9,767.1 L772.9,764.2 L773.9,761.4 L774.8,758.6 L775.8,755.7 L776.8,752.9 L777.8,750.0 L778.7,747.2 L779.7,744.4 L780.7,741.5 L781.7,738.7 L782.6,735.9 L783.6,733.0 L784.6,730.2 L785.5,727.3 L786.5,724.5 L787.5,721.7 L788.4,718.8 L789.2,716.5" stroke="#000080" stroke-dasharray="27.70 19.78 0.49 20.77"/>
<path d="M789.2,716.5 L789.4,716.0 L790.4,713.2 L791.3,710.3 L792.3,707.5 L793.3,704.6 L794.2,701.8 L795.2,699.0 L796.2,696.1 L797.1,693.3 L798.1,690.4 L799.0,687.6 L800.0,684.7 L801.0,681.9 L801.9,679.1 L802.9,676.2 L803.8,673.4 L804.8,670.5 L805.7,667.7 L806.7,664.8 L807.6,662.0 L808.6,659.1 L809.6,656.3 L810.5,653.4 L811.3,651.0" stroke="#000080" stroke-dasharray="27.85 19.89 0.50 20.89"/>
<path d="M811.3,651.0 L811.5,650.6 L812.4,647.7 L813.4,644.9 L814.3,642.0 L815.3,639.2 L816.2,636.3 L817.1,633.5 L818.1,630.6 L819.0,627.7 L820.0,624.9 L820.9,622.0 L821.9,619.2 L822.8,616.3 L823.8,613.5 L824.7,610.6 L825.6,607.7 L826.6,604.9 L827.5,602.0 L828.5,599.1 L829.4,596.3 L830.3,593.4 L831.3,590.5 L832.2,587.7 L833.1,584.8 L833.2,584.8" stroke="#000080" stroke-dasharray="28.12 20.08 0.50 21.09"/>
<path d="M833.2,584.8 L834.1,581.9 L835.0,579.1 L835.9,576.2 L836.9,573.3 L837.8,570.4 L838.8,567.6 L839.7,564.7 L840.6,561.8 L841.6,558.9 L842.5,556.1 L843.4,553.2 L844.4,550.3 L845.3,547.4 L846.3,544.6 L847.2,541.7 L848.2,538.8 L849.1,535.9 L850.1,533.1 L851.0,530.2 L852.0,527.3 L852.9,524.4 L853.9,521.6 L854.9,518.7 L855.0,518.3" stroke="#000080" stroke-dasharray="28.19 20.14 0.50 21.15"/>
<path d="M855.0,518.3 L855.8,515.8 L856.8,513.0 L857.8,510.1 L858.8,507.3 L859.7,504.4 L860.7,501.5 L861.7,498.7 L862.7,495.8 L863.7,493.0 L864.8,490.1 L865.8,487.3 L866.8,484.4 L867.8,481.6 L868.8,478.7 L869.9,475.9 L870.9,473.1 L872.0,470.2 L873.0,467.4 L874.1,464.6 L875.2,461.8 L876.3,458.9 L877.3,456.1 L878.4,453.4" stroke="#000080" stroke-dasharray="27.77 19.84 0.50 20.83"/>
<path d="M878.4,453.4 L878.4,453.3 L879.5,450.5 L880.6,447.7 L881.8,444.9 L882.9,442.1 L884.0,439.3 L885.2,436.5 L886.3,433.7 L887.5,431.0 L888.6,428.2 L889.8,425.4 L891.0,422.6 L892.2,419.9 L893.4,417.1 L894.6,414.4 L895.9,411.6 L897.1,408.9 L898.4,406.2 L899.6,403.4 L900.9,400.7 L902.2,398.0 L903.5,395.3 L904.8,392.6 L906.0,390.3" stroke="#000080" stroke-dasharray="27.77 19.83 0.50 20.83"/>
<path d="M906.0,390.3 L906.2,390.0 L907.5,387.3 L908.9,384.6 L910.3,382.0 L911.7,379.3 L913.2,376.7 L914.6,374.1 L916.1,371.5 L917.6,368.9 L919.1,366.3 L920.6,363.8 L922.1,361.2 L923.7,358.7 L925.3,356.2 L926.9,353.7 L928.6,351.2 L930.2,348.7 L931.9,346.2 L933.6,343.8 L935.4,341.4 L937.1,338.9 L938.9,336.5 L940.7,334.2 L942.2,332.3" stroke="#000080" stroke-dasharray="27.56 19.69 0.49 20.67"/>
<path d="M942.2,332.3 L942.6,331.8 L944.4,329.5 L946.3,327.1 L948.3,324.8 L950.2,322.6 L952.2,320.3 L954.2,318.1 L956.3,315.8 L958.3,313.6 L960.5,311.5 L962.6,309.3 L970.5,302.8 L981.4,299.4 L992.0,298.9 L1001.1,301.6 L1001.1,301.6" stroke="#000080" stroke-dasharray="29.24 20.89 0.52 21.93"/>
<path d="M1001.1,301.6 L1001.1,301.6 L1003.5,303.5 L1005.9,305.4 L1008.2,307.3 L1010.5,309.3 L1012.8,311.3 L1015.0,313.3 L1017.2,315.4 L1019.4,317.4 L1021.5,319.5 L1023.6,321.7 L1025.6,323.8 L1027.7,326.0 L1029.7,328.2 L1031.6,330.4 L1033.6,332.7 L1035.5,334.9 L1037.4,337.2 L1039.2,339.5 L1041.0,341.8 L1042.8,344.2 L1044.6,346.5 L1046.3,348.9 L1046.6,349.3" stroke="#000080" stroke-dasharray="26.68 19.05 0.48 20.01"/>
<path d="M1046.6,349.3 L1048.1,351.3 L1049.8,353.8 L1051.4,356.2 L1053.1,358.7 L1054.7,361.1 L1056.3,363.6 L1057.9,366.1 L1059.4,368.7 L1061.0,371.2 L1062.5,373.8 L1064.0,376.3 L1065.4,378.9 L1066.9,381.5 L1068.3,384.1 L1069.7,386.7 L1071.1,389.4 L1072.5,392.0 L1073.9,394.7 L1075.3,397.4 L1076.6,400.0 L1077.9,402.7 L1079.2,405.4 L1080.5,408.1 L1081.7,410.6" stroke="#000080" stroke-dasharray="28.50 20.35 0.51 21.37"/>
<path d="M1081.7,410.6 L1081.8,410.8 L1083.1,413.6 L1084.3,416.3 L1085.6,419.0 L1086.8,421.8 L1088.1,424.5 L1089.3,427.3 L1090.5,430.0 L1091.7,432.8 L1092.9,435.6 L1094.1,438.3 L1095.2,441.1 L1096.4,443.9 L1097.6,446.7 L1098.7,449.5 L1099.9,452.2 L1101.1,455.0 L1102.2,457.8 L1103.4,460.6 L1104.5,463.4 L1105.6,466.2 L1106.8,469.0 L1107.9,471.8 L1108.8,473.8" stroke="#000080" stroke-dasharray="27.69 19.78 0.49 20.76"/>
<path d="M1108.8,473.8 L1109.1,474.6 L1110.2,477.4 L1111.3,480.2 L1112.4,482.9 L1113.6,485.7 L1114.7,488.5 L1115.8,491.3 L1116.9,494.1 L1118.0,496.9 L1119.1,499.7 L1120.2,502.5 L1121.3,505.3 L1122.4,508.1 L1123.5,510.9 L1124.6,513.7 L1125.7,516.5 L1126.8,519.3 L1127.9,522.1 L1129.0,524.9 L1130.1,527.7 L1131.2,530.5 L1132.3,533.3 L1133.4,536.2 L1134.5,539.0 L1134.5,539.2" stroke="#000080" stroke-dasharray="28.30 20.22 0.51 21.23"/>
<path d="M1134.5,539.2 L1135.5,541.8 L1136.6,544.6 L1137.7,547.4 L1138.8,550.2 L1139.9,553.0 L1140.9,555.8 L1142.0,558.6 L1143.1,561.4 L1144.2,564.2 L1145.2,567.0 L1146.3,569.8 L1147.4,572.6 L1148.5,575.5 L1149.6,578.3 L1150.6,581.1 L1151.7,583.9 L1152.8,586.7 L1153.9,589.5 L1154.9,592.3 L1156.0,595.1 L1157.1,597.9 L1158.2,600.7 L1159.1,603.2" stroke="#000080" stroke-dasharray="27.65 19.75 0.49 20.74"/>
<path d="M1159.1,603.2 L1159.2,603.5 L1160.3,606.4 L1161.4,609.2 L1162.5,612.0 L1163.5,614.8 L1164.6,617.6 L1165.7,620.4 L1166.8,623.2 L1167.9,626.0 L1169.0,628.8 L1170.0,631.6 L1171.1,634.5 L1172.2,637.3 L1173.3,640.1 L1174.4,642.9 L1175.5,645.7 L1176.6,648.5 L1177.7,651.3 L1178.8,654.1 L1179.9,656.9 L1181.0,659.7 L1182.1,662.5 L1183.2,665.4 L1184.2,668.0" stroke="#000080" stroke-dasharray="27.98 19.98 0.50 20.98"/>
<path d="M1184.2,668.0 L1184.3,668.2 L1185.4,671.0 L1186.5,673.8 L1187.6,676.6 L1188.7,679.4 L1189.9,682.2 L1191.0,685.0 L1192.1,687.8 L1193.2,690.6 L1194.4,693.4 L1195.5,696.2 L1196.6,699.0 L1197.8,701.8 L1198.9,704.6 L1200.0,707.4 L1201.2,710.2 L1202.3,713.0 L1203.5,715.7 L1204.6,718.5 L1205.8,721.3 L1207.0,724.1 L1208.1,726.9 L1209.3,729.7 L1210.5,732.5 L1210.7,733.1" stroke="#000080" stroke-dasharray="28.33 20.23 0.51 21.24"/>
<path d="M1210.7,733.1 L1211.6,735.2 L1212.8,738.0 L1214.0,740.8 L1215.2,743.6 L1216.3,746.4 L1217.5,749.1 L1218.7,751.9 L1219.9,754.7 L1221.1,757.4 L1222.3,760.2 L1223.5,763.0 L1224.8,765.7 L1226.0,768.5 L1227.2,771.2 L1228.4,774.0 L1229.6,776.7 L1230.9,779.5 L1232.1,782.2 L1233.4,785.0 L1234.6,787.7 L1235.9,790.4 L1237.1,793.2 L1238.1,795.3" stroke="#000080" stroke-dasharray="27.39 19.56 0.49 20.54"/>
<path d="M1238.1,795.3 L1238.4,795.9 L1239.6,798.6 L1240.9,801.4 L1242.2,804.1 L1243.4,806.8 L1244.7,809.5 L1246.0,812.3 L1247.3,815.0 L1248.6,817.7 L1249.9,820.4 L1251.2,823.1 L1252.5,825.8 L1253.8,828.5 L1255.2,831.2 L1256.5,833.9 L1257.8,836.6 L1259.2,839.2 L1260.5,841.9 L1261.8,844.6 L1263.2,847.3 L1264.6,849.9 L1265.9,852.6 L1267.3,855.3 L1268.6,857.8" stroke="#000080" stroke-dasharray="28.03 20.02 0.50 21.02"/>
<path d="M1268.6,857.8 L1268.7,857.9 L1270.0,860.6 L1271.4,863.2 L1272.8,865.9 L1274.2,868.5 L1275.6,871.1 L1277.0,873.8 L1278.5,876.4 L1279.9,879.0 L1281.3,881.7 L1282.7,884.3 L1284.2,886.9 L1285.6,889.5 L1287.1,892.1 L1288.6,894.7 L1290.0,897.3 L1291.5,899.9 L1293.0,902.5 L1294.5,905.1 L1296.0,907.6 L1297.5,910.2 L1299.0,912.8 L1300.5,915.3 L1302.0,917.9 L1302.0,918.0" stroke="#000080" stroke-dasharray="27.72 19.80 0.49 20.79"/>
<path d="M1302.0,918.0 L1303.5,920.5 L1305.1,923.0 L1306.6,925.5 L1308.1,928.1 L1309.7,930.6 L1311.3,933.1 L1312.8,935.7 L1314.4,938.2 L1316.0,940.7 L1317.6,943.2 L1319.2,945.7 L1320.8,948.2 L1322.4,950.7 L1324.0,953.2 L1325.7,955.6 L1327.3,958.1 L1328.9,960.6 L1330.6,963.1 L1332.3,965.5 L1333.9,968.0 L1335.6,970.4 L1337.3,972.8 L1339.0,975.3" stroke="#000080" stroke-dasharray="27.47 19.62 0.49 20.60"/>
<path d="M1339.0,975.3 L1339.0,975.3 L1340.7,977.7 L1342.4,980.1 L1344.1,982.5 L1345.8,984.9 L1347.6,987.3 L1349.3,989.7 L1351.1,992.1 L1352.8,994.5 L1354.6,996.9 L1356.4,999.3 L1358.2,1001.6 L1359.9,1004.0 L1361.7,1006.3 L1363.6,1008.7 L1365.4,1011.0 L1367.2,1013.3 L1369.0,1015.7 L1370.9,1018.0 L1372.8,1020.3 L1374.6,1022.6 L1376.5,1024.9 L1378.4,1027.1 L1380.3,1029.4 L1381.2,1030.5" stroke="#000080" stroke-dasharray="28.00 20.00 0.50 21.00"/>
<path d="M1381.2,1030.5 L1382.2,1031.7 L1384.1,1033.9 L1386.0,1036.2 L1387.9,1038.4 L1389.9,1040.7 L1391.8,1042.9 L1393.8,1045.1 L1395.8,1047.3 L1397.8,1049.5 L1399.8,1051.7 L1401.8,1053.9 L1403.8,1056.0 L1405.8,1058.2 L1407.8,1060.3 L1409.9,1062.5 L1411.9,1064.6 L1414.0,1066.7 L1416.1,1068.8 L1418.2,1070.9 L1420.3,1073.0 L1422.4,1075.1 L1424.5,1077.1 L1426.6,1079.2 L1428.1,1080.5" stroke="#000080" stroke-dasharray="27.65 19.75 0.49 20.74"/>
<path d="M1428.1,1080.5 L1428.8,1081.2 L1430.9,1083.2 L1433.1,1085.3 L1435.3,1087.3 L1437.4,1089.3 L1439.6,1091.2 L1441.9,1093.2 L1444.1,1095.2 L1446.3,1097.1 L1448.6,1099.0 L1450.8,1101.0 L1453.1,1102.9 L1455.4,1104.8 L1457.7,1106.7 L1460.0,1108.5 L1462.3,1110.4 L1464.6,1112.2 L1467.0,1114.1 L1469.3,1115.9 L1471.7,1117.7 L1474.1,1119.5 L1476.4,1121.2 L1478.8,1123.0 L1481.3,1124.7 L1483.0,1126.0" stroke="#000080" stroke-dasharray="28.77 20.55 0.51 21.58"/>
<path d="M1483.0,1126.0 L1483.7,1126.5 L1486.1,1128.2 L1488.6,1129.9 L1491.0,1131.6 L1493.5,1133.3 L1496.0,1135.0 L1498.5,1136.6 L1501.0,1138.3 L1503.5,1139.9 L1506.0,1141.5 L1508.5,1143.1 L1511.1,1144.7 L1513.6,1146.3 L1516.2,1147.9 L1518.7,1149.4 L1521.3,1151.0 L1523.9,1152.5 L1526.5,1154.0 L1529.1,1155.5 L1531.7,1157.0 L1534.3,1158.5 L1537.0,1159.9 L1539.6,1161.4 L1542.3,1162.8 L1542.9,1163.2" stroke="#000080" stroke-dasharray="28.39 20.28 0.51 21.29"/>
<path d="M1542.9,1163.2 L1544.9,1164.3 L1547.6,1165.7 L1550.3,1167.1 L1552.9,1168.5 L1555.6,1169.9 L1558.3,1171.2 L1561.0,1172.6 L1563.7,1173.9 L1566.4,1175.2 L1569.2,1176.6 L1571.9,1177.9 L1574.6,1179.1 L1577.4,1180.4 L1580.1,1181.7 L1582.9,1182.9 L1585.6,1184.2 L1588.4,1185.4 L1591.2,1186.6 L1593.9,1187.8 L1596.7,1189.0 L1599.5,1190.2 L1602.3,1191.4 L1605.0,1192.5" stroke="#000080" stroke-dasharray="27.71 19.79 0.49 20.78"/>
<path d="M1605.0,1192.5 L1605.1,1192.6 L1607.9,1193.7 L1610.7,1194.8 L1613.5,1196.0 L1616.4,1197.1 L1619.2,1198.2 L1622.0,1199.3 L1624.8,1200.3 L1627.7,1201.4 L1630.5,1202.5 L1633.3,1203.5 L1636.2,1204.5 L1639.0,1205.5 L1641.9,1206.6 L1644.7,1207.5 L1647.6,1208.5 L1650.5,1209.5 L1653.3,1210.5 L1656.2,1211.4 L1659.1,1212.3 L1661.9,1213.3 L1664.8,1214.2 L1667.7,1215.1 L1670.6,1216.0 L1671.6,1216.3" stroke="#000080" stroke-dasharray="28.50 20.35 0.51 21.37"/>
<path d="M1671.6,1216.3 L1673.4,1216.9 L1676.3,1217.7 L1679.2,1218.6 L1682.1,1219.5 L1685.0,1220.3 L1687.9,1221.1 L1690.8,1222.0 L1693.7,1222.8 L1696.6,1223.6 L1699.5,1224.4 L1702.4,1225.1 L1705.3,1225.9 L1708.2,1226.7 L1711.1,1227.4 L1714.0,1228.2 L1716.9,1228.9 L1719.9,1229.6 L1722.8,1230.3 L1725.7,1231.0 L1728.6,1231.7 L1731.6,1232.4 L1734.5,1233.1 L1737.4,1233.8 L1738.1,1233.9" stroke="#000080" stroke-dasharray="27.71 19.79 0.49 20.78"/>
<path d="M1738.1,1233.9 L1740.3,1234.4 L1743.3,1235.1 L1746.2,1235.7 L1749.1,1236.4 L1752.1,1237.0 L1755.0,1237.6 L1758.0,1238.2 L1760.9,1238.8 L1763.9,1239.4 L1766.8,1240.0 L1769.7,1240.6 L1772.7,1241.2 L1775.6,1241.7 L1778.6,1242.3 L1781.6,1242.8 L1784.5,1243.4 L1787.5,1243.9 L1790.4,1244.4 L1793.4,1245.0 L1796.3,1245.5 L1799.3,1246.0 L1802.3,1246.5 L1805.2,1247.0 L1806.3,1247.2" stroke="#000080" stroke-dasharray="28.02 20.01 0.50 21.01"/>
<path d="M1806.3,1247.2 L1808.2,1247.5 L1811.2,1248.0 L1814.1,1248.4 L1817.1,1248.9 L1820.1,1249.4 L1823.1,1249.8 L1826.0,1250.3 L1829.0,1250.7 L1832.0,1251.2 L1835.0,1251.6 L1837.9,1252.0 L1840.9,1252.5 L1843.9,1252.9 L1846.9,1253.3 L1849.9,1253.7 L1852.8,1254.1 L1855.8,1254.5 L1858.8,1254.9 L1861.8,1255.3 L1864.8,1255.7 L1867.8,1256.1 L1870.8,1256.4 L1873.8,1256.8 L1874.5,1256.9" stroke="#000080" stroke-dasharray="27.76 19.83 0.50 20.82"/>
<path d="M1874.5,1256.9 L1876.7,1257.2 L1879.7,1257.5 L1882.7,1257.9 L1885.7,1258.2 L1888.7,1258.6 L1891.7,1258.9 L1894.7,1259.3 L1897.7,1259.6 L1900.7,1260.0 L1903.7,1260.3 L1906.7,1260.6 L1909.7,1260.9 L1912.7,1261.3 L1915.6,1261.6 L1918.6,1261.9 L1921.6,1262.2 L1924.6,1262.5 L1927.6,1262.8 L1930.6,1263.1 L1933.6,1263.4 L1936.6,1263.7 L1939.6,1264.0 L1942.6,1264.3 L1943.7,1264.4" stroke="#000080" stroke-dasharray="28.04 20.03 0.50 21.03"/>
<path d="M1943.7,1264.4 L1945.6,1264.6 L1948.6,1264.9 L1951.6,1265.2 L1954.6,1265.5 L1957.6,1265.8 L1960.6,1266.1 L1963.6,1266.4 L1966.6,1266.6 L1969.6,1266.9 L1972.6,1267.2 L1975.6,1267.5 L1978.6,1267.8 L1981.6,1268.0 L1984.6,1268.3 L1987.6,1268.6 L1990.6,1268.9 L1993.6,1269.1 L1996.6,1269.4 L1999.5,1269.7 L2002.5,1269.9 L2005.5,1270.2 L2008.5,1270.5 L2011.5,1270.8 L2014.5,1271.0 L2017.5,1271.3" stroke="#000080" stroke-dasharray="28.00 20.00 0.50 21.00"/>
</g>
<g fill="none" stroke-width="10" stroke-linecap="round">
<line x1="374" y1="126" x2="548" y2="126" stroke="#000000"/>
<line x1="374" y1="220.7" x2="548" y2="220.7" stroke="#ff0000" stroke-dasharray="38 50"/>
<line x1="374" y1="316.9" x2="548" y2="316.9" stroke="#0000ff" stroke-dasharray="46 29 6 29"/>
<line x1="374" y1="411.9" x2="548" y2="411.9" stroke="#ff00ff" stroke-dasharray="34 28.5 6.5 28.5 6.5 29"/>
<line x1="374" y1="508" x2="548" y2="508" stroke="#008000" stroke-dasharray="0.6 17"/>
<line x1="374" y1="603" x2="548" y2="603" stroke="#000080" stroke-dasharray="28 20 0.5 21"/>
</g>
<g font-family='"Liberation Sans", Arial, sans-serif' font-size="81.5" fill="#000"><text transform="translate(570,152) scale(0.956,1)">Martins-Rivas &amp; Mei (2009)</text><text transform="translate(570,248.7) scale(0.956,1)"><tspan font-style="italic">N</tspan>=2000</text><text transform="translate(570,343.4) scale(0.956,1)"><tspan font-style="italic">N</tspan>=1000</text><text transform="translate(570,439.0) scale(0.956,1)"><tspan font-style="italic">N</tspan>=500</text><text transform="translate(570,534.7) scale(0.956,1)"><tspan font-style="italic">N</tspan>=200</text><text transform="translate(570,630.4) scale(0.956,1)"><tspan font-style="italic">N</tspan>=100</text></g>
</svg>
</body></html>
